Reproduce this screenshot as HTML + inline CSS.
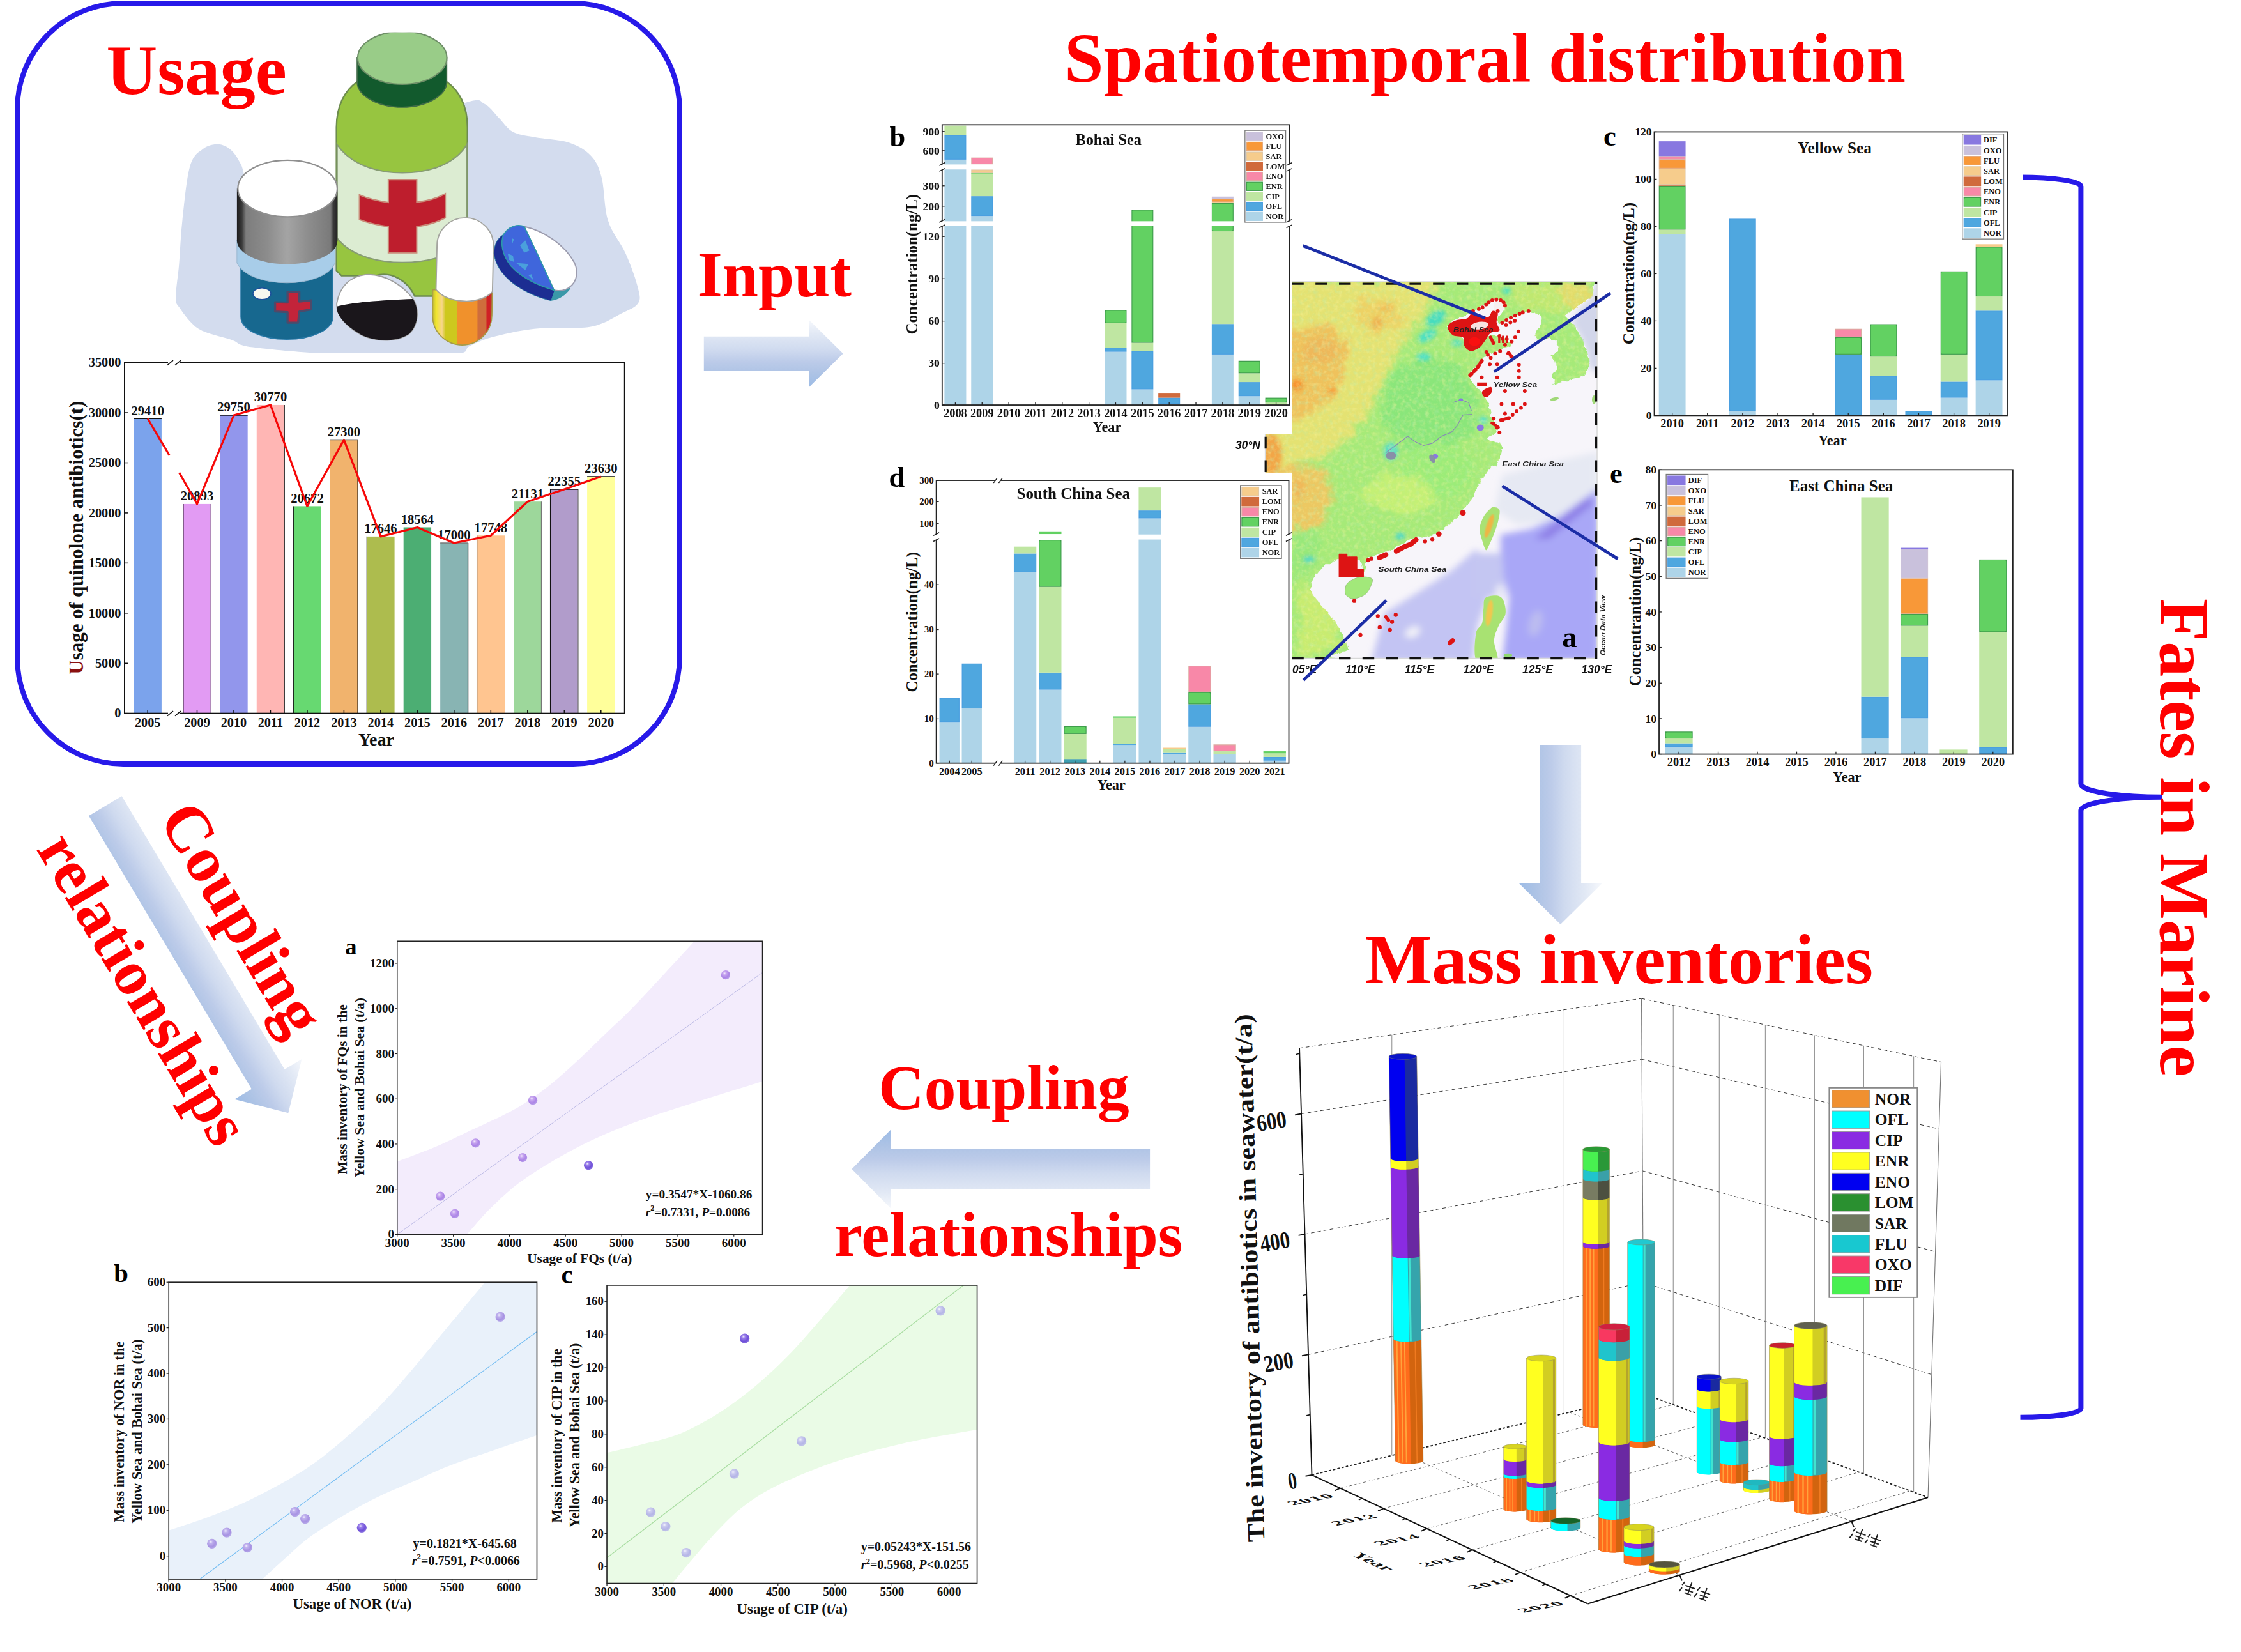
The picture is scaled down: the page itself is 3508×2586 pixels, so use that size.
<!DOCTYPE html>
<html><head><meta charset="utf-8"><title>Graphical abstract</title>
<style>
html,body{margin:0;padding:0;background:#fff;}
body{width:3508px;height:2586px;overflow:hidden;font-family:"Liberation Serif",serif;}
svg{display:block;position:absolute;left:0;top:0;}
text{font-family:"Liberation Serif",serif;font-weight:bold;}
.sans{font-family:"Liberation Sans",sans-serif;}
</style></head><body>
<svg width="3508" height="2586" viewBox="0 0 3508 2586">
<defs>
<linearGradient id="ag" x1="0" y1="0" x2="0" y2="1">
<stop offset="0" stop-color="#f6f8fc"/><stop offset="0.2" stop-color="#e2e9f5"/><stop offset="0.45" stop-color="#cfdaef"/><stop offset="0.62" stop-color="#bccbe9"/><stop offset="0.8" stop-color="#adc3e5"/><stop offset="1" stop-color="#9dbce6"/></linearGradient>
<clipPath id="illclip"><rect x="260" y="50.8" width="760" height="501.5"/></clipPath>
<linearGradient id="lidg" x1="0" y1="0" x2="1" y2="0"><stop offset="0" stop-color="#1c1c1c"/><stop offset="0.05" stop-color="#3a3a3a"/><stop offset="0.09" stop-color="#7d7d7d"/><stop offset="0.3" stop-color="#8c8c8c"/><stop offset="0.5" stop-color="#a4a4a4"/><stop offset="0.7" stop-color="#8e8e8e"/><stop offset="0.93" stop-color="#7a7a7a"/><stop offset="0.96" stop-color="#3a3a3a"/><stop offset="1" stop-color="#222"/></linearGradient>
<linearGradient id="capg" x1="0" y1="0" x2="1" y2="0"><stop offset="0" stop-color="#b8b03a"/><stop offset="0.06" stop-color="#f0e62a"/><stop offset="0.16" stop-color="#f7d68a"/><stop offset="0.22" stop-color="#cdc81e"/><stop offset="0.4" stop-color="#cdc81e"/><stop offset="0.42" stop-color="#f0912c"/><stop offset="0.74" stop-color="#f0912c"/><stop offset="0.76" stop-color="#cf6d3c"/><stop offset="0.89" stop-color="#cf6d3c"/><stop offset="0.91" stop-color="#d02025"/><stop offset="0.96" stop-color="#d02025"/><stop offset="1" stop-color="#a07a40"/></linearGradient>
<clipPath id="mapclip"><rect x="1980.6" y="441" width="519.4" height="589.5"/></clipPath>
<filter id="mb1" x="-20%" y="-20%" width="140%" height="140%"><feGaussianBlur stdDeviation="22" result="b"/><feTurbulence type="fractalNoise" baseFrequency="0.012" numOctaves="3" seed="7" result="t"/><feDisplacementMap in="b" in2="t" scale="110" xChannelSelector="R" yChannelSelector="G"/></filter>
<filter id="mnoise" x="0" y="0" width="100%" height="100%"><feTurbulence type="fractalNoise" baseFrequency="0.035" numOctaves="3" seed="3" result="t"/><feColorMatrix in="t" type="matrix" values="0 0 0 0 1  0 0 0 0 0.93  0 0 0 0 0.35  1.6 0 0 0 -0.72"/></filter>
<filter id="mnoise2" x="0" y="0" width="100%" height="100%"><feTurbulence type="fractalNoise" baseFrequency="0.03" numOctaves="3" seed="11" result="t"/><feColorMatrix in="t" type="matrix" values="0 0 0 0 0.45  0 0 0 0 0.85  0 0 0 0 0.45  0 1.6 0 0 -0.74"/></filter>
<filter id="coast" x="-5%" y="-5%" width="110%" height="110%"><feTurbulence type="fractalNoise" baseFrequency="0.03" numOctaves="3" seed="5" result="t"/><feDisplacementMap in="SourceGraphic" in2="t" scale="26" xChannelSelector="R" yChannelSelector="G" result="d"/><feGaussianBlur in="d" stdDeviation="3"/></filter>
<filter id="mb2" x="-20%" y="-20%" width="140%" height="140%"><feGaussianBlur stdDeviation="14"/></filter>
<filter id="mb4" x="-20%" y="-20%" width="140%" height="140%"><feGaussianBlur stdDeviation="24"/></filter>
<filter id="mb3" x="-20%" y="-20%" width="140%" height="140%"><feGaussianBlur stdDeviation="5"/></filter>
<clipPath id="seaclip"><path d="M1450.0 165.0 C1470.0 166.7 1511.7 184.2 1520.0 200.0 C1528.3 215.8 1508.3 243.3 1500.0 260.0 C1491.7 276.7 1471.7 287.5 1470.0 300.0 C1468.3 312.5 1473.2 337.3 1490.0 335.0 C1506.8 332.7 1546.5 297.8 1571.0 286.0 C1595.5 274.2 1620.5 269.5 1637.0 264.0 C1653.5 258.5 1658.2 253.2 1670.0 253.0 C1681.8 252.8 1691.7 257.7 1708.0 263.0 C1724.3 268.3 1758.8 270.3 1768.0 285.0 C1777.2 299.7 1769.3 331.7 1763.0 351.0 C1756.7 370.3 1733.7 386.3 1730.0 401.0 C1726.3 415.7 1731.0 431.7 1741.0 439.0 C1751.0 446.3 1774.5 445.0 1790.0 445.0 C1805.5 445.0 1820.2 436.3 1834.0 439.0 C1847.8 441.7 1864.7 446.3 1873.0 461.0 C1881.3 475.7 1889.5 512.3 1884.0 527.0 C1878.5 541.7 1843.7 538.0 1840.0 549.0 C1836.3 560.0 1855.7 576.5 1862.0 593.0 C1868.3 609.5 1880.8 631.5 1878.0 648.0 C1875.2 664.5 1847.7 676.5 1845.0 692.0 C1842.3 707.5 1863.8 730.0 1862.0 741.0 C1860.2 752.0 1827.7 758.0 1834.0 758.0 C1840.3 758.0 1875.3 747.5 1900.0 741.0 C1924.7 734.5 1954.5 727.2 1982.0 719.0 C2009.5 710.8 2045.7 708.5 2065.0 692.0 C2084.3 675.5 2094.3 645.7 2098.0 620.0 C2101.7 594.3 2096.2 570.0 2087.0 538.0 C2077.8 506.0 2057.7 459.2 2043.0 428.0 C2028.3 396.8 2013.7 371.2 1999.0 351.0 C1984.3 330.8 1965.2 318.0 1955.0 307.0 C1944.8 296.0 1938.0 292.3 1938.0 285.0 C1938.0 277.7 1938.5 275.8 1955.0 263.0 C1971.5 250.2 2009.5 228.0 2037.0 208.0 C2064.5 188.0 2103.5 167.7 2120.0 143.0 C2136.5 118.3 2122.7 78.8 2136.0 60.0 C2149.3 41.2 2189.3 -403.3 2200.0 30.0 C2210.7 463.3 2490.8 2223.6 2200.0 2660.0 C1909.2 3096.4 748.3 2663.5 455.0 2648.2 C161.7 2632.9 449.2 2598.2 440.0 2568.2 C430.8 2538.2 417.5 2501.5 400.0 2468.2 C382.5 2434.9 360.0 2401.5 335.0 2368.2 C310.0 2334.9 274.2 2299.9 250.0 2268.2 C225.8 2236.5 198.3 2206.5 190.0 2178.2 C181.7 2149.9 186.7 2126.5 200.0 2098.2 C213.3 2069.9 241.7 2031.5 270.0 2008.2 C298.3 1984.9 345.0 1970.7 370.0 1958.2 C395.0 1945.7 395.0 1931.5 420.0 1933.2 C445.0 1934.9 499.2 1946.5 520.0 1968.2 C540.8 1989.9 537.5 2061.5 545.0 2063.2 C552.5 2064.9 555.8 1998.7 565.0 1978.2 C574.2 1957.7 577.5 1951.9 600.0 1940.2 C622.5 1928.5 666.7 1921.9 700.0 1908.2 C733.3 1894.5 766.7 1874.9 800.0 1858.2 C833.3 1841.5 866.7 1817.9 900.0 1808.2 C933.3 1798.5 970.0 1808.5 1000.0 1800.2 C1030.0 1791.9 1050.0 1778.5 1080.0 1758.2 C1110.0 1737.9 1154.7 1701.5 1180.0 1678.2 C1205.3 1654.9 1213.7 1639.9 1232.0 1618.2 C1250.3 1596.5 1274.5 1573.2 1290.0 1548.2 C1305.5 1523.2 1310.0 1496.5 1325.0 1468.2 C1340.0 1439.9 1362.5 1403.2 1380.0 1378.2 C1397.5 1353.2 1415.0 1331.2 1430.0 1318.2 C1445.0 1305.2 1458.3 1319.7 1470.0 1300.0 C1481.7 1280.3 1498.3 1223.3 1500.0 1200.0 C1501.7 1176.7 1496.7 1171.7 1480.0 1160.0 C1463.3 1148.3 1405.0 1141.7 1400.0 1130.0 C1395.0 1118.3 1438.3 1105.0 1450.0 1090.0 C1461.7 1075.0 1473.3 1058.3 1470.0 1040.0 C1466.7 1021.7 1441.7 1008.3 1430.0 980.0 C1418.3 951.7 1415.0 901.7 1400.0 870.0 C1385.0 838.3 1361.7 818.3 1340.0 790.0 C1318.3 761.7 1271.7 728.3 1270.0 700.0 C1268.3 671.7 1310.0 643.3 1330.0 620.0 C1350.0 596.7 1365.0 576.7 1390.0 560.0 C1415.0 543.3 1451.7 533.3 1480.0 520.0 C1508.3 506.7 1553.3 493.3 1560.0 480.0 C1566.7 466.7 1540.0 450.0 1520.0 440.0 C1500.0 430.0 1463.3 420.0 1440.0 420.0 C1416.7 420.0 1400.0 426.7 1380.0 440.0 C1360.0 453.3 1341.7 490.0 1320.0 500.0 C1298.3 510.0 1265.0 510.0 1250.0 500.0 C1235.0 490.0 1245.0 456.7 1230.0 440.0 C1215.0 423.3 1176.7 415.0 1160.0 400.0 C1143.3 385.0 1123.3 366.7 1130.0 350.0 C1136.7 333.3 1173.3 315.0 1200.0 300.0 C1226.7 285.0 1266.7 271.7 1290.0 260.0 C1313.3 248.3 1321.7 241.7 1340.0 230.0 C1358.3 218.3 1381.7 200.8 1400.0 190.0 C1418.3 179.2 1430.0 163.3 1450.0 165.0Z"/></clipPath>
<radialGradient id="sga" cx="0.38" cy="0.32" r="0.7"><stop offset="0" stop-color="#f4eefc"/><stop offset="0.25" stop-color="#c9a8f0"/><stop offset="0.7" stop-color="#ab84e6"/><stop offset="1" stop-color="#b9a0ea"/></radialGradient>
<radialGradient id="sgb" cx="0.38" cy="0.32" r="0.7"><stop offset="0" stop-color="#f2f0fc"/><stop offset="0.25" stop-color="#c0b2ee"/><stop offset="0.7" stop-color="#a792e2"/><stop offset="1" stop-color="#b8acea"/></radialGradient>
<radialGradient id="sgc" cx="0.38" cy="0.32" r="0.7"><stop offset="0" stop-color="#f6f6fe"/><stop offset="0.25" stop-color="#ccccf0"/><stop offset="0.7" stop-color="#b4b4e6"/><stop offset="1" stop-color="#c4c8ea"/></radialGradient>
<radialGradient id="sgd" cx="0.38" cy="0.32" r="0.7"><stop offset="0" stop-color="#f0ecfc"/><stop offset="0.25" stop-color="#9a80ea"/><stop offset="0.7" stop-color="#6f4fd8"/><stop offset="1" stop-color="#8a74e0"/></radialGradient>
<clipPath id="sca"><rect x="418" y="98" width="1686" height="1354"/></clipPath>
<clipPath id="scb"><rect x="287" y="130" width="1587" height="1280"/></clipPath>
<clipPath id="scc"><rect x="303" y="143" width="1596" height="1285"/></clipPath>
</defs>
<rect x="0" y="0" width="3508" height="2586" fill="#fff"/>
<g transform="translate(1101.80,553.40) rotate(0.000)"><polygon points="0.0,-26.6 164.7,-26.6 164.7,-52.5 217.9,0.0 164.7,52.5 164.7,26.6 0.0,26.6" fill="url(#ag)" /></g>
<g transform="translate(2442.80,1166.10) rotate(90.000)"><polygon points="0.0,-32.3 216.8,-32.3 216.8,-64.8 281.0,0.0 216.8,64.8 216.8,32.3 0.0,32.3" fill="url(#ag)" /></g>
<g transform="translate(1800.10,1830.00) rotate(180.000)"><polygon points="0.0,-31.6 405.3,-31.6 405.3,-61.9 466.7,0.0 405.3,61.9 405.3,31.6 0.0,31.6" fill="url(#ag)" /></g>
<g transform="translate(164.80,1261.70) rotate(59.200)"><polygon points="0.0,-30.1 497.8,-30.1 497.8,-61.3 559.5,0.0 497.8,61.3 497.8,30.1 0.0,30.1" fill="url(#ag)" /></g>
<rect x="27" y="5" width="1036.7" height="1191.0" rx="166" ry="166" fill="none" stroke="#2719e9" stroke-width="8"/>
<path d="M3162.5 277.5 A95 14 0 0 1 3257.4 291.5 V1227 A127.6 20.8 0 0 0 3385 1247.8 A127.6 20.8 0 0 0 3257.4 1268.6 V2204.8 A95 14 0 0 1 3162.5 2218.8" fill="none" stroke="#2719e9" stroke-width="8"/>
<text x="166.50" y="147.30" font-size="110.50" fill="#ff0000" text-anchor="start" >Usage</text>
<text x="1666.00" y="128.00" font-size="110.50" fill="#ff0000" text-anchor="start" >Spatiotemporal distribution</text>
<text x="1091.50" y="464.10" font-size="101.00" fill="#ff0000" text-anchor="start" >Input</text>
<text x="2137.00" y="1539.00" font-size="110.50" fill="#ff0000" text-anchor="start" >Mass inventories</text>
<text x="1375.00" y="1735.60" font-size="99.50" fill="#ff0000" text-anchor="start" >Coupling</text>
<text x="1306.00" y="1965.80" font-size="99.50" fill="#ff0000" text-anchor="start" >relationships</text>
<text transform="translate(3382,936.8) rotate(90)" font-size="110.5" fill="#ff0000">Fates in Marine</text>
<text transform="translate(247,1282) rotate(59.2)" font-size="102" fill="#ff0000">Coupling</text>
<text transform="translate(56,1329) rotate(59.2)" font-size="100" fill="#ff0000">relationships</text>
<g clip-path="url(#illclip)"><g transform="translate(260,40) scale(0.339132)" ><path d="M240.0 548.0 C261.7 548.8 282.5 559.7 300.0 575.0 C317.5 590.3 328.3 609.2 345.0 640.0 C361.7 670.8 357.5 730.0 400.0 760.0 C442.5 790.0 533.3 820.0 600.0 820.0 C666.7 820.0 733.3 813.3 800.0 760.0 C866.7 706.7 902.5 567.5 1000.0 500.0 C1097.5 432.5 1306.7 378.0 1385.0 355.0 C1463.3 332.0 1445.0 350.3 1470.0 362.0 C1495.0 373.7 1513.3 403.7 1535.0 425.0 C1556.7 446.3 1572.5 475.0 1600.0 490.0 C1627.5 505.0 1656.7 506.7 1700.0 515.0 C1743.3 523.3 1816.7 525.8 1860.0 540.0 C1903.3 554.2 1935.0 573.3 1960.0 600.0 C1985.0 626.7 1996.7 650.0 2010.0 700.0 C2023.3 750.0 2021.7 841.7 2040.0 900.0 C2058.3 958.3 2097.5 1000.0 2120.0 1050.0 C2142.5 1100.0 2165.0 1161.7 2175.0 1200.0 C2185.0 1238.3 2192.5 1258.3 2180.0 1280.0 C2167.5 1301.7 2136.7 1311.7 2100.0 1330.0 C2063.3 1348.3 2026.7 1378.3 1960.0 1390.0 C1893.3 1401.7 1776.7 1391.7 1700.0 1400.0 C1623.3 1408.3 1550.0 1426.7 1500.0 1440.0 C1450.0 1453.3 1426.7 1467.5 1400.0 1480.0 C1373.3 1492.5 1406.7 1508.3 1340.0 1515.0 C1273.3 1521.7 1090.0 1519.2 1000.0 1520.0 C910.0 1520.8 900.0 1525.8 800.0 1520.0 C700.0 1514.2 483.3 1496.7 400.0 1485.0 C316.7 1473.3 341.7 1464.2 300.0 1450.0 C258.3 1435.8 190.0 1425.0 150.0 1400.0 C110.0 1375.0 77.5 1325.0 60.0 1300.0 C42.5 1275.0 45.0 1283.3 45.0 1250.0 C45.0 1216.7 55.0 1158.3 60.0 1100.0 C65.0 1041.7 66.7 975.0 75.0 900.0 C83.3 825.0 94.2 705.0 110.0 650.0 C125.8 595.0 148.3 587.0 170.0 570.0 C191.7 553.0 218.3 547.2 240.0 548.0Z" fill="#d3dcee" stroke="none" stroke-width="0.00" /></g>
<g transform="translate(500,40) scale(0.266397)" ><path d="M222 330 C150 380 100 470 100 600 L100 1440 L130 1470 L330 1470 C420 1440 520 1500 560 1590 L690 1590 L700 1440 L868 1440 L870 600 C870 470 820 380 748 330 Z" fill="#97c540" stroke="#6d8c4e" stroke-width="9.00" /><path d="M104 700 C200 840 380 865 487 865 C600 865 780 840 866 700 L866 1250 C780 1370 600 1392 487 1392 C380 1392 200 1370 104 1250 Z" fill="#dcecd2" stroke="#879c74" stroke-width="8.00" /><path d="M405 905 L572 905 L572 1038 C640 1030 700 1010 740 988 L740 1130 C700 1152 640 1172 572 1182 L572 1335 L405 1335 L405 1182 C340 1172 280 1158 235 1140 L235 995 C280 1015 340 1030 405 1040 Z" fill="#be1e2d" stroke="#c98a78" stroke-width="8.00" /><path d="M222 190 L222 330 C222 410 340 480 487 480 C630 480 748 410 748 330 L748 190 Z" fill="#125a2d" stroke="#3f6b47" stroke-width="7.00" /><ellipse cx="487.0" cy="190.0" rx="262.0" ry="155.0" fill="#99cc88" stroke="#6f8f68" stroke-width="8.00" /></g>
<g transform="translate(340,220) scale(0.205833)" ><path d="M180 900 L180 1340 C180 1440 340 1512 530 1512 C720 1512 880 1440 880 1340 L880 900 Z" fill="#17688f" stroke="#2a7aa8" stroke-width="8.00" /><path d="M150 760 L150 930 C200 1030 360 1082 530 1082 C700 1082 850 1030 897 930 L897 760 Z" fill="#a8cde9" stroke="#9ab8d0" stroke-width="5.00" /><path d="M150 365 L150 760 C150 860 320 940 535 940 C750 940 915 860 915 760 L915 365 Z" fill="url(#lidg)" stroke="none" stroke-width="0.00" /><ellipse cx="535.0" cy="365.0" rx="378.0" ry="215.0" fill="#ffffff" stroke="#8f8f8f" stroke-width="11.00" /><ellipse cx="340.0" cy="1165.0" rx="68.0" ry="44.0" fill="#f8f8f0" stroke="#1c4f9a" stroke-width="8.00" /><path d="M535 1150 L625 1150 L625 1225 L715 1215 L715 1285 L625 1300 L615 1385 L535 1385 L535 1305 L440 1300 L440 1230 L535 1232 Z" fill="#c3243a" stroke="#4d4a6a" stroke-width="16.00" stroke-linejoin="round"/><path d="M910 1235 C930 1120 1000 1035 1130 1020 C1280 1010 1420 1110 1490 1205 C1540 1290 1530 1400 1460 1470 C1380 1530 1220 1535 1100 1480 C990 1420 900 1330 910 1235 Z" fill="#ffffff" stroke="#a0a0a0" stroke-width="9.00" /><path d="M910 1262 C1000 1235 1250 1212 1490 1205 C1540 1290 1530 1400 1460 1470 C1380 1530 1220 1535 1100 1480 C990 1420 900 1330 910 1262 Z" fill="#1a161b" stroke="none" stroke-width="0.00" /></g>
<g transform="translate(660,320) scale(0.160643)" ><path d="M105 830 L105 1080 A290 290 0 0 0 685 1080 L690 850 Z" fill="url(#capg)" stroke="#a59a48" stroke-width="10.00" /><path d="M150 400 A275 270 0 0 1 700 400 L690 850 C620 930 480 950 400 942 C300 935 200 900 140 830 Z" fill="#ffffff" stroke="#a5a5a0" stroke-width="12.00" /><path d="M795 295 C740 330 705 390 705 480 C720 610 820 730 950 810 C1060 880 1180 920 1262 938 L1295 840 C1150 790 1000 720 880 600 C800 500 770 400 795 295 Z" fill="#1c2d92" stroke="#2a7aa0" stroke-width="6.00" /><path d="M1262 938 C1340 930 1410 880 1450 820 L1420 800 C1380 830 1340 840 1295 840 Z" fill="#3a98a8" stroke="none" stroke-width="0.00" /><path d="M1000 215 C1200 260 1400 400 1490 570 C1540 680 1500 790 1400 830 C1360 842 1320 842 1290 835 Z" fill="#ffffff" stroke="#9c9cae" stroke-width="12.00" /><path d="M1000 215 C940 190 850 210 800 290 C760 380 790 500 870 600 C980 720 1150 795 1290 835 C1230 700 1080 380 1000 215 Z" fill="#3f66dc" stroke="#2a9aa8" stroke-width="10.00" /><path d="M960 400 L1010 350 L1050 450 L1000 470 Z M840 480 L890 500 L900 560 L850 540 Z M920 570 L1040 580 L1010 640 Z M1040 690 L1070 680 L1090 740 Z M880 330 L900 340 L885 380 Z" fill="#4aa0dc" stroke="none" stroke-width="0.00" /></g></g>
<rect x="195.00" y="567.60" width="782.80" height="549.10" fill="#fff" />
<rect x="209.50" y="655.30" width="43.40" height="461.40" fill="#7ba3ec" />
<line x1="209.50" y1="655.30" x2="252.90" y2="655.30" stroke="#111" stroke-width="1.60" />
<rect x="286.80" y="788.92" width="43.40" height="327.78" fill="#e29bf3" />
<line x1="286.80" y1="788.92" x2="286.80" y2="1116.70" stroke="#111" stroke-width="1.30" />
<line x1="330.20" y1="788.92" x2="330.20" y2="1116.70" stroke="#777" stroke-width="1.30" />
<rect x="344.28" y="649.96" width="43.40" height="466.74" fill="#9296ec" />
<line x1="344.28" y1="649.96" x2="387.68" y2="649.96" stroke="#111" stroke-width="1.60" />
<rect x="401.76" y="633.96" width="43.40" height="482.74" fill="#ffb6b4" />
<line x1="445.16" y1="633.96" x2="445.16" y2="1116.70" stroke="#111" stroke-width="1.30" />
<rect x="459.24" y="792.39" width="43.40" height="324.31" fill="#67d971" />
<line x1="459.24" y1="792.39" x2="459.24" y2="1116.70" stroke="#111" stroke-width="1.30" />
<rect x="516.72" y="688.40" width="43.40" height="428.30" fill="#f1b36d" />
<line x1="560.12" y1="688.40" x2="560.12" y2="1116.70" stroke="#111" stroke-width="1.30" />
<line x1="516.72" y1="688.40" x2="560.12" y2="688.40" stroke="#777" stroke-width="1.60" />
<rect x="574.20" y="839.86" width="43.40" height="276.84" fill="#adbc4e" />
<line x1="574.20" y1="839.86" x2="574.20" y2="1116.70" stroke="#777" stroke-width="1.30" />
<rect x="631.68" y="825.46" width="43.40" height="291.24" fill="#4cae73" />
<rect x="689.16" y="849.99" width="43.40" height="266.71" fill="#88b4b3" />
<line x1="732.56" y1="849.99" x2="732.56" y2="1116.70" stroke="#111" stroke-width="1.30" />
<line x1="689.16" y1="849.99" x2="732.56" y2="849.99" stroke="#777" stroke-width="1.60" />
<rect x="746.64" y="838.26" width="43.40" height="278.44" fill="#ffc590" />
<line x1="746.64" y1="838.26" x2="746.64" y2="1116.70" stroke="#777" stroke-width="1.30" />
<rect x="804.12" y="785.18" width="43.40" height="331.52" fill="#9dd79b" />
<line x1="847.52" y1="785.18" x2="847.52" y2="1116.70" stroke="#777" stroke-width="1.30" />
<rect x="861.60" y="765.98" width="43.40" height="350.72" fill="#b19ccb" />
<line x1="861.60" y1="765.98" x2="861.60" y2="1116.70" stroke="#111" stroke-width="1.30" />
<line x1="905.00" y1="765.98" x2="905.00" y2="1116.70" stroke="#777" stroke-width="1.30" />
<line x1="861.60" y1="765.98" x2="905.00" y2="765.98" stroke="#111" stroke-width="1.60" />
<rect x="919.08" y="745.98" width="43.40" height="370.72" fill="#ffff9b" />
<line x1="919.08" y1="745.98" x2="962.48" y2="745.98" stroke="#111" stroke-width="1.60" />
<rect x="195.0" y="567.6" width="782.8" height="549.1" fill="none" stroke="#111" stroke-width="2"/>
<rect x="263.00" y="564.60" width="18.00" height="6.00" fill="#fff" />
<line x1="262.00" y1="571.60" x2="271.00" y2="564.10" stroke="#111" stroke-width="1.60" />
<line x1="274.00" y1="571.60" x2="283.00" y2="564.10" stroke="#111" stroke-width="1.60" />
<rect x="263.00" y="1113.70" width="18.00" height="6.00" fill="#fff" />
<line x1="262.00" y1="1120.70" x2="271.00" y2="1113.20" stroke="#111" stroke-width="1.60" />
<line x1="274.00" y1="1120.70" x2="283.00" y2="1113.20" stroke="#111" stroke-width="1.60" />
<line x1="231.20" y1="1116.70" x2="231.20" y2="1111.70" stroke="#111" stroke-width="1.50" />
<line x1="308.50" y1="1116.70" x2="308.50" y2="1111.70" stroke="#111" stroke-width="1.50" />
<line x1="365.98" y1="1116.70" x2="365.98" y2="1111.70" stroke="#111" stroke-width="1.50" />
<line x1="423.46" y1="1116.70" x2="423.46" y2="1111.70" stroke="#111" stroke-width="1.50" />
<line x1="480.94" y1="1116.70" x2="480.94" y2="1111.70" stroke="#111" stroke-width="1.50" />
<line x1="538.42" y1="1116.70" x2="538.42" y2="1111.70" stroke="#111" stroke-width="1.50" />
<line x1="595.90" y1="1116.70" x2="595.90" y2="1111.70" stroke="#111" stroke-width="1.50" />
<line x1="653.38" y1="1116.70" x2="653.38" y2="1111.70" stroke="#111" stroke-width="1.50" />
<line x1="710.86" y1="1116.70" x2="710.86" y2="1111.70" stroke="#111" stroke-width="1.50" />
<line x1="768.34" y1="1116.70" x2="768.34" y2="1111.70" stroke="#111" stroke-width="1.50" />
<line x1="825.82" y1="1116.70" x2="825.82" y2="1111.70" stroke="#111" stroke-width="1.50" />
<line x1="883.30" y1="1116.70" x2="883.30" y2="1111.70" stroke="#111" stroke-width="1.50" />
<line x1="940.78" y1="1116.70" x2="940.78" y2="1111.70" stroke="#111" stroke-width="1.50" />
<line x1="195.00" y1="1116.70" x2="200.00" y2="1116.70" stroke="#111" stroke-width="1.50" />
<text x="189.50" y="1123.40" font-size="20.30" fill="#111" text-anchor="end" >0</text>
<line x1="195.00" y1="1038.26" x2="200.00" y2="1038.26" stroke="#111" stroke-width="1.50" />
<text x="189.50" y="1044.96" font-size="20.30" fill="#111" text-anchor="end" >5000</text>
<line x1="195.00" y1="959.81" x2="200.00" y2="959.81" stroke="#111" stroke-width="1.50" />
<text x="189.50" y="966.51" font-size="20.30" fill="#111" text-anchor="end" >10000</text>
<line x1="195.00" y1="881.37" x2="200.00" y2="881.37" stroke="#111" stroke-width="1.50" />
<text x="189.50" y="888.07" font-size="20.30" fill="#111" text-anchor="end" >15000</text>
<line x1="195.00" y1="802.93" x2="200.00" y2="802.93" stroke="#111" stroke-width="1.50" />
<text x="189.50" y="809.63" font-size="20.30" fill="#111" text-anchor="end" >20000</text>
<line x1="195.00" y1="724.49" x2="200.00" y2="724.49" stroke="#111" stroke-width="1.50" />
<text x="189.50" y="731.19" font-size="20.30" fill="#111" text-anchor="end" >25000</text>
<line x1="195.00" y1="646.04" x2="200.00" y2="646.04" stroke="#111" stroke-width="1.50" />
<text x="189.50" y="652.74" font-size="20.30" fill="#111" text-anchor="end" >30000</text>
<line x1="195.00" y1="567.60" x2="200.00" y2="567.60" stroke="#111" stroke-width="1.50" />
<text x="189.50" y="574.30" font-size="20.30" fill="#111" text-anchor="end" >35000</text>
<text x="231.20" y="1138.40" font-size="20.30" fill="#111" text-anchor="middle" >2005</text>
<text x="308.50" y="1138.40" font-size="20.30" fill="#111" text-anchor="middle" >2009</text>
<text x="365.98" y="1138.40" font-size="20.30" fill="#111" text-anchor="middle" >2010</text>
<text x="423.46" y="1138.40" font-size="20.30" fill="#111" text-anchor="middle" >2011</text>
<text x="480.94" y="1138.40" font-size="20.30" fill="#111" text-anchor="middle" >2012</text>
<text x="538.42" y="1138.40" font-size="20.30" fill="#111" text-anchor="middle" >2013</text>
<text x="595.90" y="1138.40" font-size="20.30" fill="#111" text-anchor="middle" >2014</text>
<text x="653.38" y="1138.40" font-size="20.30" fill="#111" text-anchor="middle" >2015</text>
<text x="710.86" y="1138.40" font-size="20.30" fill="#111" text-anchor="middle" >2016</text>
<text x="768.34" y="1138.40" font-size="20.30" fill="#111" text-anchor="middle" >2017</text>
<text x="825.82" y="1138.40" font-size="20.30" fill="#111" text-anchor="middle" >2018</text>
<text x="883.30" y="1138.40" font-size="20.30" fill="#111" text-anchor="middle" >2019</text>
<text x="940.78" y="1138.40" font-size="20.30" fill="#111" text-anchor="middle" >2020</text>
<text x="231.20" y="649.80" font-size="20.60" fill="#111" text-anchor="middle" >29410</text>
<text x="308.50" y="783.42" font-size="20.60" fill="#111" text-anchor="middle" >20893</text>
<text x="365.98" y="644.46" font-size="20.60" fill="#111" text-anchor="middle" >29750</text>
<text x="423.46" y="628.46" font-size="20.60" fill="#111" text-anchor="middle" >30770</text>
<text x="480.94" y="786.89" font-size="20.60" fill="#111" text-anchor="middle" >20672</text>
<text x="538.42" y="682.90" font-size="20.60" fill="#111" text-anchor="middle" >27300</text>
<text x="595.90" y="834.36" font-size="20.60" fill="#111" text-anchor="middle" >17646</text>
<text x="653.38" y="819.96" font-size="20.60" fill="#111" text-anchor="middle" >18564</text>
<text x="710.86" y="844.49" font-size="20.60" fill="#111" text-anchor="middle" >17000</text>
<text x="768.34" y="832.76" font-size="20.60" fill="#111" text-anchor="middle" >17748</text>
<text x="825.82" y="779.68" font-size="20.60" fill="#111" text-anchor="middle" >21131</text>
<text x="883.30" y="760.48" font-size="20.60" fill="#111" text-anchor="middle" >22355</text>
<text x="940.78" y="740.48" font-size="20.60" fill="#111" text-anchor="middle" >23630</text>
<polyline points="231.2,655.3 265.1,712.7" fill="none" stroke="#f60808" stroke-width="3.20" />
<polyline points="280.6,739.9 308.5,788.9 366.0,650.0 423.5,634.0 480.9,792.4 538.4,688.4 595.9,839.9 653.4,825.5 710.9,850.0 768.3,838.3 825.8,785.2 883.3,766.0 940.8,746.0" fill="none" stroke="#f60808" stroke-width="3.20" stroke-linejoin="round"/>
<text x="589.00" y="1166.80" font-size="28.00" fill="#111" text-anchor="middle" >Year</text>
<text transform="translate(130,1055.6) rotate(-90)" font-size="31" fill="#111" textLength="428" lengthAdjust="spacingAndGlyphs"><tspan fill="#8b1010">U</tspan>sage of quinolone antibiotics(t)</text>
<g transform="translate(2480,160) scale(0.326926)" ><rect x="115.00" y="60.00" width="1985.00" height="1620.00" fill="#fff" />
<rect x="357.00" y="632.00" width="128.00" height="868.00" fill="#aed4e8" />
<rect x="357.00" y="610.00" width="128.00" height="22.00" fill="#bfe6a2" />
<rect x="357.00" y="400.00" width="128.00" height="210.00" fill="#3f9d4c" /><rect x="360.5" y="403.5" width="121.0" height="203.0" rx="5" fill="#62d162"/>
<rect x="357.00" y="395.00" width="128.00" height="5.00" fill="#d06a3c" />
<rect x="357.00" y="318.00" width="128.00" height="77.00" fill="#e2c8a4" /><rect x="360.5" y="321.5" width="121.0" height="70.0" rx="5" fill="#f6cc8c"/>
<rect x="357.00" y="275.00" width="128.00" height="43.00" fill="#e6a878" /><rect x="360.5" y="278.5" width="121.0" height="36.0" rx="5" fill="#f89838"/>
<rect x="357.00" y="258.00" width="128.00" height="17.00" fill="#dcaaa0" /><rect x="360.5" y="261.5" width="121.0" height="10.0" rx="5" fill="#f888a8"/>
<rect x="357.00" y="187.00" width="128.00" height="71.00" fill="#8878e0" />
<rect x="694.00" y="1480.00" width="128.00" height="20.00" fill="#aed4e8" />
<rect x="694.00" y="558.00" width="128.00" height="922.00" fill="#4a9fe0" /><rect x="697.5" y="561.5" width="121.0" height="915.0" rx="5" fill="#4fa7df"/>
<rect x="1200.00" y="1208.00" width="128.00" height="292.00" fill="#4a9fe0" /><rect x="1203.5" y="1211.5" width="121.0" height="285.0" rx="5" fill="#4fa7df"/>
<rect x="1200.00" y="1125.00" width="128.00" height="83.00" fill="#3f9d4c" /><rect x="1203.5" y="1128.5" width="121.0" height="76.0" rx="5" fill="#62d162"/>
<rect x="1200.00" y="1085.00" width="128.00" height="40.00" fill="#dcaaa0" /><rect x="1203.5" y="1088.5" width="121.0" height="33.0" rx="5" fill="#f888a8"/>
<rect x="1369.00" y="1425.00" width="128.00" height="75.00" fill="#aed4e8" />
<rect x="1369.00" y="1310.00" width="128.00" height="115.00" fill="#4a9fe0" /><rect x="1372.5" y="1313.5" width="121.0" height="108.0" rx="5" fill="#4fa7df"/>
<rect x="1369.00" y="1218.00" width="128.00" height="92.00" fill="#bfe6a2" />
<rect x="1369.00" y="1063.00" width="128.00" height="155.00" fill="#3f9d4c" /><rect x="1372.5" y="1066.5" width="121.0" height="148.0" rx="5" fill="#62d162"/>
<rect x="1537.00" y="1478.00" width="128.00" height="22.00" fill="#4a9fe0" /><rect x="1540.5" y="1481.5" width="121.0" height="15.0" rx="5" fill="#4fa7df"/>
<rect x="1706.00" y="1415.00" width="128.00" height="85.00" fill="#aed4e8" />
<rect x="1706.00" y="1338.00" width="128.00" height="77.00" fill="#4a9fe0" /><rect x="1709.5" y="1341.5" width="121.0" height="70.0" rx="5" fill="#4fa7df"/>
<rect x="1706.00" y="1208.00" width="128.00" height="130.00" fill="#bfe6a2" />
<rect x="1706.00" y="810.00" width="128.00" height="398.00" fill="#3f9d4c" /><rect x="1709.5" y="813.5" width="121.0" height="391.0" rx="5" fill="#62d162"/>
<rect x="1874.00" y="1332.00" width="128.00" height="168.00" fill="#aed4e8" />
<rect x="1874.00" y="998.00" width="128.00" height="334.00" fill="#4a9fe0" /><rect x="1877.5" y="1001.5" width="121.0" height="327.0" rx="5" fill="#4fa7df"/>
<rect x="1874.00" y="930.00" width="128.00" height="68.00" fill="#bfe6a2" />
<rect x="1874.00" y="692.00" width="128.00" height="238.00" fill="#3f9d4c" /><rect x="1877.5" y="695.5" width="121.0" height="231.0" rx="5" fill="#62d162"/>
<rect x="1874.00" y="680.00" width="128.00" height="12.00" fill="#f6cc8c" />
<rect x="335.0" y="142.0" width="1690.0" height="1358.0" fill="none" stroke="#222" stroke-width="5.5"/>
<line x1="335.00" y1="1500.00" x2="347.00" y2="1500.00" stroke="#222" stroke-width="4.00" />
<text x="323.00" y="1517.82" font-size="54.00" fill="#111" text-anchor="end" >0</text>
<line x1="335.00" y1="1273.67" x2="347.00" y2="1273.67" stroke="#222" stroke-width="4.00" />
<text x="323.00" y="1291.49" font-size="54.00" fill="#111" text-anchor="end" >20</text>
<line x1="335.00" y1="1047.34" x2="347.00" y2="1047.34" stroke="#222" stroke-width="4.00" />
<text x="323.00" y="1065.16" font-size="54.00" fill="#111" text-anchor="end" >40</text>
<line x1="335.00" y1="821.01" x2="347.00" y2="821.01" stroke="#222" stroke-width="4.00" />
<text x="323.00" y="838.83" font-size="54.00" fill="#111" text-anchor="end" >60</text>
<line x1="335.00" y1="594.68" x2="347.00" y2="594.68" stroke="#222" stroke-width="4.00" />
<text x="323.00" y="612.50" font-size="54.00" fill="#111" text-anchor="end" >80</text>
<line x1="335.00" y1="368.35" x2="347.00" y2="368.35" stroke="#222" stroke-width="4.00" />
<text x="323.00" y="386.17" font-size="54.00" fill="#111" text-anchor="end" >100</text>
<line x1="335.00" y1="142.02" x2="347.00" y2="142.02" stroke="#222" stroke-width="4.00" />
<text x="323.00" y="159.84" font-size="54.00" fill="#111" text-anchor="end" >120</text>
<line x1="421.00" y1="1500.00" x2="421.00" y2="1488.00" stroke="#222" stroke-width="4.00" />
<text x="421.00" y="1557.00" font-size="56.00" fill="#111" text-anchor="middle" >2010</text>
<line x1="589.60" y1="1500.00" x2="589.60" y2="1488.00" stroke="#222" stroke-width="4.00" />
<text x="589.60" y="1557.00" font-size="56.00" fill="#111" text-anchor="middle" >2011</text>
<line x1="758.20" y1="1500.00" x2="758.20" y2="1488.00" stroke="#222" stroke-width="4.00" />
<text x="758.20" y="1557.00" font-size="56.00" fill="#111" text-anchor="middle" >2012</text>
<line x1="926.80" y1="1500.00" x2="926.80" y2="1488.00" stroke="#222" stroke-width="4.00" />
<text x="926.80" y="1557.00" font-size="56.00" fill="#111" text-anchor="middle" >2013</text>
<line x1="1095.40" y1="1500.00" x2="1095.40" y2="1488.00" stroke="#222" stroke-width="4.00" />
<text x="1095.40" y="1557.00" font-size="56.00" fill="#111" text-anchor="middle" >2014</text>
<line x1="1264.00" y1="1500.00" x2="1264.00" y2="1488.00" stroke="#222" stroke-width="4.00" />
<text x="1264.00" y="1557.00" font-size="56.00" fill="#111" text-anchor="middle" >2015</text>
<line x1="1432.60" y1="1500.00" x2="1432.60" y2="1488.00" stroke="#222" stroke-width="4.00" />
<text x="1432.60" y="1557.00" font-size="56.00" fill="#111" text-anchor="middle" >2016</text>
<line x1="1601.20" y1="1500.00" x2="1601.20" y2="1488.00" stroke="#222" stroke-width="4.00" />
<text x="1601.20" y="1557.00" font-size="56.00" fill="#111" text-anchor="middle" >2017</text>
<line x1="1769.80" y1="1500.00" x2="1769.80" y2="1488.00" stroke="#222" stroke-width="4.00" />
<text x="1769.80" y="1557.00" font-size="56.00" fill="#111" text-anchor="middle" >2018</text>
<line x1="1938.40" y1="1500.00" x2="1938.40" y2="1488.00" stroke="#222" stroke-width="4.00" />
<text x="1938.40" y="1557.00" font-size="56.00" fill="#111" text-anchor="middle" >2019</text>
<text x="1188.00" y="1642.00" font-size="68.00" fill="#111" text-anchor="middle" >Year</text>
<text transform="translate(238.0,1160.0) rotate(-90)" font-size="76.0" fill="#111" textLength="680.0" lengthAdjust="spacingAndGlyphs">Concentration(ng/L)</text>
<text x="1022.0" y="245.0" font-size="76.0" fill="#111" textLength="354.0" lengthAdjust="spacingAndGlyphs">Yellow Sea</text>
<text x="92.00" y="208.00" font-size="136.00" fill="#000" text-anchor="start" >c</text>
<rect x="1810.0" y="152.0" width="198.0" height="503.0" fill="#fff" stroke="#777" stroke-width="4"/>
<rect x="1816.00" y="158.00" width="84.00" height="45.50" fill="#8878e0" />
<text x="1912.00" y="193.75" font-size="38.00" fill="#111" text-anchor="start" >DIF</text>
<rect x="1816.00" y="207.50" width="84.00" height="45.50" fill="#cfc4d8" /><rect x="1819.5" y="211.0" width="77.0" height="38.5" rx="5" fill="#c9c1dc"/>
<text x="1912.00" y="243.25" font-size="38.00" fill="#111" text-anchor="start" >OXO</text>
<rect x="1816.00" y="257.00" width="84.00" height="45.50" fill="#e6a878" /><rect x="1819.5" y="260.5" width="77.0" height="38.5" rx="5" fill="#f89838"/>
<text x="1912.00" y="292.75" font-size="38.00" fill="#111" text-anchor="start" >FLU</text>
<rect x="1816.00" y="306.50" width="84.00" height="45.50" fill="#e2c8a4" /><rect x="1819.5" y="310.0" width="77.0" height="38.5" rx="5" fill="#f6cc8c"/>
<text x="1912.00" y="342.25" font-size="38.00" fill="#111" text-anchor="start" >SAR</text>
<rect x="1816.00" y="356.00" width="84.00" height="45.50" fill="#d06a3c" />
<text x="1912.00" y="391.75" font-size="38.00" fill="#111" text-anchor="start" >LOM</text>
<rect x="1816.00" y="405.50" width="84.00" height="45.50" fill="#dcaaa0" /><rect x="1819.5" y="409.0" width="77.0" height="38.5" rx="5" fill="#f888a8"/>
<text x="1912.00" y="441.25" font-size="38.00" fill="#111" text-anchor="start" >ENO</text>
<rect x="1816.00" y="455.00" width="84.00" height="45.50" fill="#3f9d4c" /><rect x="1819.5" y="458.5" width="77.0" height="38.5" rx="5" fill="#62d162"/>
<text x="1912.00" y="490.75" font-size="38.00" fill="#111" text-anchor="start" >ENR</text>
<rect x="1816.00" y="504.50" width="84.00" height="45.50" fill="#bfe6a2" />
<text x="1912.00" y="540.25" font-size="38.00" fill="#111" text-anchor="start" >CIP</text>
<rect x="1816.00" y="554.00" width="84.00" height="45.50" fill="#4a9fe0" /><rect x="1819.5" y="557.5" width="77.0" height="38.5" rx="5" fill="#4fa7df"/>
<text x="1912.00" y="589.75" font-size="38.00" fill="#111" text-anchor="start" >OFL</text>
<rect x="1816.00" y="603.50" width="84.00" height="45.50" fill="#aed4e8" />
<text x="1912.00" y="639.25" font-size="38.00" fill="#111" text-anchor="start" >NOR</text></g>
<g transform="translate(2480,700) scale(0.326926)" ><rect x="115.00" y="20.00" width="2005.00" height="1630.00" fill="#fff" />
<rect x="387.00" y="1435.00" width="132.00" height="35.00" fill="#aed4e8" />
<rect x="387.00" y="1418.00" width="132.00" height="17.00" fill="#4a9fe0" /><rect x="390.5" y="1421.5" width="125.0" height="10.0" rx="5" fill="#4fa7df"/>
<rect x="387.00" y="1395.00" width="132.00" height="23.00" fill="#bfe6a2" />
<rect x="387.00" y="1362.00" width="132.00" height="33.00" fill="#3f9d4c" /><rect x="390.5" y="1365.5" width="125.0" height="26.0" rx="5" fill="#62d162"/>
<rect x="1326.00" y="1395.00" width="132.00" height="75.00" fill="#aed4e8" />
<rect x="1326.00" y="1195.00" width="132.00" height="200.00" fill="#4a9fe0" /><rect x="1329.5" y="1198.5" width="125.0" height="193.0" rx="5" fill="#4fa7df"/>
<rect x="1326.00" y="240.00" width="132.00" height="955.00" fill="#bfe6a2" />
<rect x="1514.00" y="1298.00" width="132.00" height="172.00" fill="#aed4e8" />
<rect x="1514.00" y="1005.00" width="132.00" height="293.00" fill="#4a9fe0" /><rect x="1517.5" y="1008.5" width="125.0" height="286.0" rx="5" fill="#4fa7df"/>
<rect x="1514.00" y="855.00" width="132.00" height="150.00" fill="#bfe6a2" />
<rect x="1514.00" y="798.00" width="132.00" height="57.00" fill="#3f9d4c" /><rect x="1517.5" y="801.5" width="125.0" height="50.0" rx="5" fill="#62d162"/>
<rect x="1514.00" y="628.00" width="132.00" height="170.00" fill="#e6a878" /><rect x="1517.5" y="631.5" width="125.0" height="163.0" rx="5" fill="#f89838"/>
<rect x="1514.00" y="490.00" width="132.00" height="138.00" fill="#cfc4d8" /><rect x="1517.5" y="493.5" width="125.0" height="131.0" rx="5" fill="#c9c1dc"/>
<rect x="1514.00" y="482.00" width="132.00" height="8.00" fill="#8878e0" />
<rect x="1702.00" y="1448.00" width="132.00" height="22.00" fill="#bfe6a2" />
<rect x="1891.00" y="1437.00" width="132.00" height="33.00" fill="#4a9fe0" /><rect x="1894.5" y="1440.5" width="125.0" height="26.0" rx="5" fill="#4fa7df"/>
<rect x="1891.00" y="885.00" width="132.00" height="552.00" fill="#bfe6a2" />
<rect x="1891.00" y="538.00" width="132.00" height="347.00" fill="#3f9d4c" /><rect x="1894.5" y="541.5" width="125.0" height="340.0" rx="5" fill="#62d162"/>
<rect x="358.0" y="108.0" width="1694.0" height="1362.0" fill="none" stroke="#222" stroke-width="5.5"/>
<line x1="358.00" y1="1470.00" x2="370.00" y2="1470.00" stroke="#222" stroke-width="4.00" />
<text x="346.00" y="1487.82" font-size="54.00" fill="#111" text-anchor="end" >0</text>
<line x1="358.00" y1="1299.75" x2="370.00" y2="1299.75" stroke="#222" stroke-width="4.00" />
<text x="346.00" y="1317.57" font-size="54.00" fill="#111" text-anchor="end" >10</text>
<line x1="358.00" y1="1129.50" x2="370.00" y2="1129.50" stroke="#222" stroke-width="4.00" />
<text x="346.00" y="1147.32" font-size="54.00" fill="#111" text-anchor="end" >20</text>
<line x1="358.00" y1="959.25" x2="370.00" y2="959.25" stroke="#222" stroke-width="4.00" />
<text x="346.00" y="977.07" font-size="54.00" fill="#111" text-anchor="end" >30</text>
<line x1="358.00" y1="789.00" x2="370.00" y2="789.00" stroke="#222" stroke-width="4.00" />
<text x="346.00" y="806.82" font-size="54.00" fill="#111" text-anchor="end" >40</text>
<line x1="358.00" y1="618.75" x2="370.00" y2="618.75" stroke="#222" stroke-width="4.00" />
<text x="346.00" y="636.57" font-size="54.00" fill="#111" text-anchor="end" >50</text>
<line x1="358.00" y1="448.50" x2="370.00" y2="448.50" stroke="#222" stroke-width="4.00" />
<text x="346.00" y="466.32" font-size="54.00" fill="#111" text-anchor="end" >60</text>
<line x1="358.00" y1="278.25" x2="370.00" y2="278.25" stroke="#222" stroke-width="4.00" />
<text x="346.00" y="296.07" font-size="54.00" fill="#111" text-anchor="end" >70</text>
<line x1="358.00" y1="108.00" x2="370.00" y2="108.00" stroke="#222" stroke-width="4.00" />
<text x="346.00" y="125.82" font-size="54.00" fill="#111" text-anchor="end" >80</text>
<line x1="453.00" y1="1470.00" x2="453.00" y2="1458.00" stroke="#222" stroke-width="4.00" />
<text x="453.00" y="1527.00" font-size="56.00" fill="#111" text-anchor="middle" >2012</text>
<line x1="641.00" y1="1470.00" x2="641.00" y2="1458.00" stroke="#222" stroke-width="4.00" />
<text x="641.00" y="1527.00" font-size="56.00" fill="#111" text-anchor="middle" >2013</text>
<line x1="829.00" y1="1470.00" x2="829.00" y2="1458.00" stroke="#222" stroke-width="4.00" />
<text x="829.00" y="1527.00" font-size="56.00" fill="#111" text-anchor="middle" >2014</text>
<line x1="1017.00" y1="1470.00" x2="1017.00" y2="1458.00" stroke="#222" stroke-width="4.00" />
<text x="1017.00" y="1527.00" font-size="56.00" fill="#111" text-anchor="middle" >2015</text>
<line x1="1205.00" y1="1470.00" x2="1205.00" y2="1458.00" stroke="#222" stroke-width="4.00" />
<text x="1205.00" y="1527.00" font-size="56.00" fill="#111" text-anchor="middle" >2016</text>
<line x1="1393.00" y1="1470.00" x2="1393.00" y2="1458.00" stroke="#222" stroke-width="4.00" />
<text x="1393.00" y="1527.00" font-size="56.00" fill="#111" text-anchor="middle" >2017</text>
<line x1="1581.00" y1="1470.00" x2="1581.00" y2="1458.00" stroke="#222" stroke-width="4.00" />
<text x="1581.00" y="1527.00" font-size="56.00" fill="#111" text-anchor="middle" >2018</text>
<line x1="1769.00" y1="1470.00" x2="1769.00" y2="1458.00" stroke="#222" stroke-width="4.00" />
<text x="1769.00" y="1527.00" font-size="56.00" fill="#111" text-anchor="middle" >2019</text>
<line x1="1957.00" y1="1470.00" x2="1957.00" y2="1458.00" stroke="#222" stroke-width="4.00" />
<text x="1957.00" y="1527.00" font-size="56.00" fill="#111" text-anchor="middle" >2020</text>
<text x="1258.00" y="1602.00" font-size="68.00" fill="#111" text-anchor="middle" >Year</text>
<text transform="translate(268.0,1145.0) rotate(-90)" font-size="76.0" fill="#111" textLength="715.0" lengthAdjust="spacingAndGlyphs">Concentrantion(ng/L)</text>
<text x="982.0" y="210.0" font-size="76.0" fill="#111" textLength="496.0" lengthAdjust="spacingAndGlyphs">East China Sea</text>
<text x="122.00" y="170.00" font-size="136.00" fill="#000" text-anchor="start" >e</text>
<rect x="392.0" y="130.0" width="200.0" height="498.0" fill="#fff" stroke="#777" stroke-width="4"/>
<rect x="398.00" y="136.00" width="87.00" height="45.00" fill="#8878e0" />
<text x="498.00" y="171.50" font-size="38.00" fill="#111" text-anchor="start" >DIF</text>
<rect x="398.00" y="185.00" width="87.00" height="45.00" fill="#cfc4d8" /><rect x="401.5" y="188.5" width="80.0" height="38.0" rx="5" fill="#c9c1dc"/>
<text x="498.00" y="220.50" font-size="38.00" fill="#111" text-anchor="start" >OXO</text>
<rect x="398.00" y="234.00" width="87.00" height="45.00" fill="#e6a878" /><rect x="401.5" y="237.5" width="80.0" height="38.0" rx="5" fill="#f89838"/>
<text x="498.00" y="269.50" font-size="38.00" fill="#111" text-anchor="start" >FLU</text>
<rect x="398.00" y="283.00" width="87.00" height="45.00" fill="#e2c8a4" /><rect x="401.5" y="286.5" width="80.0" height="38.0" rx="5" fill="#f6cc8c"/>
<text x="498.00" y="318.50" font-size="38.00" fill="#111" text-anchor="start" >SAR</text>
<rect x="398.00" y="332.00" width="87.00" height="45.00" fill="#d06a3c" />
<text x="498.00" y="367.50" font-size="38.00" fill="#111" text-anchor="start" >LOM</text>
<rect x="398.00" y="381.00" width="87.00" height="45.00" fill="#dcaaa0" /><rect x="401.5" y="384.5" width="80.0" height="38.0" rx="5" fill="#f888a8"/>
<text x="498.00" y="416.50" font-size="38.00" fill="#111" text-anchor="start" >ENO</text>
<rect x="398.00" y="430.00" width="87.00" height="45.00" fill="#3f9d4c" /><rect x="401.5" y="433.5" width="80.0" height="38.0" rx="5" fill="#62d162"/>
<text x="498.00" y="465.50" font-size="38.00" fill="#111" text-anchor="start" >ENR</text>
<rect x="398.00" y="479.00" width="87.00" height="45.00" fill="#bfe6a2" />
<text x="498.00" y="514.50" font-size="38.00" fill="#111" text-anchor="start" >CIP</text>
<rect x="398.00" y="528.00" width="87.00" height="45.00" fill="#4a9fe0" /><rect x="401.5" y="531.5" width="80.0" height="38.0" rx="5" fill="#4fa7df"/>
<text x="498.00" y="563.50" font-size="38.00" fill="#111" text-anchor="start" >OFL</text>
<rect x="398.00" y="577.00" width="87.00" height="45.00" fill="#aed4e8" />
<text x="498.00" y="612.50" font-size="38.00" fill="#111" text-anchor="start" >NOR</text></g>
<g clip-path="url(#mapclip)"><g transform="translate(2010,430) scale(0.227578)" ><rect x="-140.00" y="40.00" width="2310.00" height="2620.00" fill="#a6ea78" />
<g filter="url(#mb1)"><polygon points="-140.0,40.0 1050.0,40.0 980.0,250.0 820.0,450.0 700.0,700.0 560.0,1000.0 300.0,1250.0 -140.0,1350.0" fill="#e4e272" /><polygon points="-140.0,380.0 320.0,340.0 460.0,500.0 360.0,850.0 100.0,1000.0 -140.0,1000.0" fill="#efc25c" /><polygon points="500.0,150.0 750.0,180.0 820.0,330.0 600.0,420.0 480.0,300.0" fill="#edd265" /><polygon points="-140.0,1300.0 260.0,1330.0 340.0,1500.0 260.0,1720.0 60.0,1780.0 -140.0,1720.0" fill="#ecc862" /><ellipse cx="1000.0" cy="900.0" rx="330.0" ry="330.0" fill="#8ae67a" stroke="none" stroke-width="0.00" /><ellipse cx="1050.0" cy="1350.0" rx="250.0" ry="200.0" fill="#9cec78" stroke="none" stroke-width="0.00" /><polygon points="1500.0,60.0 2130.0,60.0 2130.0,260.0 1750.0,260.0 1600.0,200.0" fill="#bfe870" /><polygon points="1880.0,60.0 2130.0,60.0 2130.0,280.0 1950.0,250.0" fill="#e2dc6a" /><polygon points="700.0,1368.2 950.0,1398.2 1050.0,1568.2 900.0,1648.2 650.0,1618.2 500.0,1518.2" fill="#c4f074" /><polygon points="100.0,2118.2 330.0,2218.2 400.0,2568.2 100.0,2636.2" fill="#c8ec70" /><polygon points="60.0,1738.2 260.0,1798.2 200.0,2018.2 60.0,2118.2" fill="#98e87a" /></g>
<g filter="url(#mb2)"><ellipse cx="90.0" cy="760.0" rx="42.0" ry="38.0" fill="#f8902c" stroke="none" stroke-width="0.00" /><ellipse cx="330.0" cy="800.0" rx="30.0" ry="18.0" fill="#f89a38" stroke="none" stroke-width="0.00" /><ellipse cx="150.0" cy="570.0" rx="20.0" ry="14.0" fill="#f8a040" stroke="none" stroke-width="0.00" /><ellipse cx="250.0" cy="520.0" rx="120.0" ry="90.0" fill="#eeb85a" stroke="none" stroke-width="0.00" /><ellipse cx="1045.0" cy="300.0" rx="75.0" ry="45.0" fill="#44dcc0" stroke="none" stroke-width="0.00" transform="rotate(-35 1045 300)"/><ellipse cx="985.0" cy="420.0" rx="70.0" ry="35.0" fill="#4ce0c4" stroke="none" stroke-width="0.00" transform="rotate(-30 985 420)"/><ellipse cx="960.0" cy="565.0" rx="50.0" ry="28.0" fill="#50e0c8" stroke="none" stroke-width="0.00" /><ellipse cx="1190.0" cy="470.0" rx="40.0" ry="22.0" fill="#58e0c0" stroke="none" stroke-width="0.00" /><ellipse cx="735.0" cy="1215.0" rx="50.0" ry="60.0" fill="#58dcc8" stroke="none" stroke-width="0.00" /><ellipse cx="1530.0" cy="110.0" rx="30.0" ry="25.0" fill="#50e0c0" stroke="none" stroke-width="0.00" /><ellipse cx="1370.0" cy="1000.0" rx="30.0" ry="25.0" fill="#58e0d0" stroke="none" stroke-width="0.00" /><ellipse cx="800.0" cy="1798.0" rx="35.0" ry="25.0" fill="#50d8c8" stroke="none" stroke-width="0.00" /><ellipse cx="170.0" cy="1958.0" rx="40.0" ry="22.0" fill="#58d8c8" stroke="none" stroke-width="0.00" /><ellipse cx="640.0" cy="330.0" rx="30.0" ry="45.0" fill="#eeb050" stroke="none" stroke-width="0.00" transform="rotate(20 640 330)"/><ellipse cx="700.0" cy="230.0" rx="60.0" ry="25.0" fill="#f0c058" stroke="none" stroke-width="0.00" /><ellipse cx="100.0" cy="1468.0" rx="45.0" ry="70.0" fill="#f0b858" stroke="none" stroke-width="0.00" /><ellipse cx="-90.0" cy="1235.0" rx="75.0" ry="140.0" fill="#f2a646" stroke="none" stroke-width="0.00" /></g>
<rect x="-140" y="40" width="2310" height="2620" filter="url(#mnoise)" opacity="0.55"/>
<rect x="-140" y="40" width="2310" height="2620" filter="url(#mnoise2)" opacity="0.5"/>
<g filter="url(#coast)"><path d="M1450.0 165.0 C1470.0 166.7 1511.7 184.2 1520.0 200.0 C1528.3 215.8 1508.3 243.3 1500.0 260.0 C1491.7 276.7 1471.7 287.5 1470.0 300.0 C1468.3 312.5 1473.2 337.3 1490.0 335.0 C1506.8 332.7 1546.5 297.8 1571.0 286.0 C1595.5 274.2 1620.5 269.5 1637.0 264.0 C1653.5 258.5 1658.2 253.2 1670.0 253.0 C1681.8 252.8 1691.7 257.7 1708.0 263.0 C1724.3 268.3 1758.8 270.3 1768.0 285.0 C1777.2 299.7 1769.3 331.7 1763.0 351.0 C1756.7 370.3 1733.7 386.3 1730.0 401.0 C1726.3 415.7 1731.0 431.7 1741.0 439.0 C1751.0 446.3 1774.5 445.0 1790.0 445.0 C1805.5 445.0 1820.2 436.3 1834.0 439.0 C1847.8 441.7 1864.7 446.3 1873.0 461.0 C1881.3 475.7 1889.5 512.3 1884.0 527.0 C1878.5 541.7 1843.7 538.0 1840.0 549.0 C1836.3 560.0 1855.7 576.5 1862.0 593.0 C1868.3 609.5 1880.8 631.5 1878.0 648.0 C1875.2 664.5 1847.7 676.5 1845.0 692.0 C1842.3 707.5 1863.8 730.0 1862.0 741.0 C1860.2 752.0 1827.7 758.0 1834.0 758.0 C1840.3 758.0 1875.3 747.5 1900.0 741.0 C1924.7 734.5 1954.5 727.2 1982.0 719.0 C2009.5 710.8 2045.7 708.5 2065.0 692.0 C2084.3 675.5 2094.3 645.7 2098.0 620.0 C2101.7 594.3 2096.2 570.0 2087.0 538.0 C2077.8 506.0 2057.7 459.2 2043.0 428.0 C2028.3 396.8 2013.7 371.2 1999.0 351.0 C1984.3 330.8 1965.2 318.0 1955.0 307.0 C1944.8 296.0 1938.0 292.3 1938.0 285.0 C1938.0 277.7 1938.5 275.8 1955.0 263.0 C1971.5 250.2 2009.5 228.0 2037.0 208.0 C2064.5 188.0 2103.5 167.7 2120.0 143.0 C2136.5 118.3 2122.7 78.8 2136.0 60.0 C2149.3 41.2 2189.3 -403.3 2200.0 30.0 C2210.7 463.3 2490.8 2223.6 2200.0 2660.0 C1909.2 3096.4 748.3 2663.5 455.0 2648.2 C161.7 2632.9 449.2 2598.2 440.0 2568.2 C430.8 2538.2 417.5 2501.5 400.0 2468.2 C382.5 2434.9 360.0 2401.5 335.0 2368.2 C310.0 2334.9 274.2 2299.9 250.0 2268.2 C225.8 2236.5 198.3 2206.5 190.0 2178.2 C181.7 2149.9 186.7 2126.5 200.0 2098.2 C213.3 2069.9 241.7 2031.5 270.0 2008.2 C298.3 1984.9 345.0 1970.7 370.0 1958.2 C395.0 1945.7 395.0 1931.5 420.0 1933.2 C445.0 1934.9 499.2 1946.5 520.0 1968.2 C540.8 1989.9 537.5 2061.5 545.0 2063.2 C552.5 2064.9 555.8 1998.7 565.0 1978.2 C574.2 1957.7 577.5 1951.9 600.0 1940.2 C622.5 1928.5 666.7 1921.9 700.0 1908.2 C733.3 1894.5 766.7 1874.9 800.0 1858.2 C833.3 1841.5 866.7 1817.9 900.0 1808.2 C933.3 1798.5 970.0 1808.5 1000.0 1800.2 C1030.0 1791.9 1050.0 1778.5 1080.0 1758.2 C1110.0 1737.9 1154.7 1701.5 1180.0 1678.2 C1205.3 1654.9 1213.7 1639.9 1232.0 1618.2 C1250.3 1596.5 1274.5 1573.2 1290.0 1548.2 C1305.5 1523.2 1310.0 1496.5 1325.0 1468.2 C1340.0 1439.9 1362.5 1403.2 1380.0 1378.2 C1397.5 1353.2 1415.0 1331.2 1430.0 1318.2 C1445.0 1305.2 1458.3 1319.7 1470.0 1300.0 C1481.7 1280.3 1498.3 1223.3 1500.0 1200.0 C1501.7 1176.7 1496.7 1171.7 1480.0 1160.0 C1463.3 1148.3 1405.0 1141.7 1400.0 1130.0 C1395.0 1118.3 1438.3 1105.0 1450.0 1090.0 C1461.7 1075.0 1473.3 1058.3 1470.0 1040.0 C1466.7 1021.7 1441.7 1008.3 1430.0 980.0 C1418.3 951.7 1415.0 901.7 1400.0 870.0 C1385.0 838.3 1361.7 818.3 1340.0 790.0 C1318.3 761.7 1271.7 728.3 1270.0 700.0 C1268.3 671.7 1310.0 643.3 1330.0 620.0 C1350.0 596.7 1365.0 576.7 1390.0 560.0 C1415.0 543.3 1451.7 533.3 1480.0 520.0 C1508.3 506.7 1553.3 493.3 1560.0 480.0 C1566.7 466.7 1540.0 450.0 1520.0 440.0 C1500.0 430.0 1463.3 420.0 1440.0 420.0 C1416.7 420.0 1400.0 426.7 1380.0 440.0 C1360.0 453.3 1341.7 490.0 1320.0 500.0 C1298.3 510.0 1265.0 510.0 1250.0 500.0 C1235.0 490.0 1245.0 456.7 1230.0 440.0 C1215.0 423.3 1176.7 415.0 1160.0 400.0 C1143.3 385.0 1123.3 366.7 1130.0 350.0 C1136.7 333.3 1173.3 315.0 1200.0 300.0 C1226.7 285.0 1266.7 271.7 1290.0 260.0 C1313.3 248.3 1321.7 241.7 1340.0 230.0 C1358.3 218.3 1381.7 200.8 1400.0 190.0 C1418.3 179.2 1430.0 163.3 1450.0 165.0Z" fill="#f7f5fa" stroke="none" stroke-width="0.00" /></g>
<g clip-path="url(#seaclip)"><g filter="url(#mb4)"><polygon points="1500.0,1378.2 1800.0,1298.2 2160.0,1218.2 2160.0,1648.2 1900.0,1698.2 1600.0,1718.2 1450.0,1618.2" fill="#e6e9f3" /><polygon points="1490.0,1788.2 1700.0,1748.2 1900.0,1658.2 2160.0,1468.2 2160.0,2658.2 1500.0,2658.2 1530.0,2418.2 1550.0,2218.2 1490.0,2018.2" fill="#a9a7f7" /><polygon points="1720.0,1818.2 2090.0,1533.2 2130.0,1573.2 1820.0,1818.2" fill="#8d7ee6" /><polygon points="600.0,2658.2 690.0,2328.2 900.0,2198.2 1150.0,2038.2 1320.0,1888.2 1420.0,2018.2 1400.0,2218.2 1330.0,2418.2 1300.0,2658.2" fill="#c3c4f3" /><polygon points="1300.0,1918.2 1500.0,1918.2 1520.0,2218.2 1300.0,2218.2" fill="#c4c6f2" /><polygon points="2136.0,60.0 2200.0,30.0 2200.0,700.0 2098.0,640.0 2087.0,538.0 2043.0,428.0 1980.0,330.0 2037.0,230.0 2120.0,150.0" fill="#d2d6ea" /><ellipse cx="885.0" cy="2458.2" rx="55.0" ry="35.0" fill="#f2f2f8" stroke="none" stroke-width="0.00" transform="rotate(-25 885 2458)"/><ellipse cx="1480.0" cy="2198.2" rx="25.0" ry="70.0" fill="#eeeef6" stroke="none" stroke-width="0.00" /><ellipse cx="1730.0" cy="2398.2" rx="45.0" ry="90.0" fill="#bcbcf0" stroke="none" stroke-width="0.00" transform="rotate(15 1730 2398)"/></g></g>
<path d="M1440.0 1598.2 C1452.0 1598.2 1476.7 1601.5 1482.0 1618.2 C1487.3 1634.9 1478.7 1669.9 1472.0 1698.2 C1465.3 1726.5 1453.7 1758.2 1442.0 1788.2 C1430.3 1818.2 1411.5 1861.2 1402.0 1878.2 C1392.5 1895.2 1392.0 1900.2 1385.0 1890.2 C1378.0 1880.2 1366.7 1841.9 1360.0 1818.2 C1353.3 1794.5 1343.3 1773.2 1345.0 1748.2 C1346.7 1723.2 1359.2 1689.9 1370.0 1668.2 C1380.8 1646.5 1398.3 1629.9 1410.0 1618.2 C1421.7 1606.5 1428.0 1598.2 1440.0 1598.2Z" fill="#a9e274" stroke="none" stroke-width="0.00" /><ellipse cx="1412.0" cy="1728.2" rx="20.0" ry="85.0" fill="#efb544" stroke="none" stroke-width="0.00" transform="rotate(18 1412 1728)" filter="url(#mb3)"/><path d="M420.0 2168.2 C421.7 2153.2 423.3 2132.9 440.0 2118.2 C456.7 2103.5 493.3 2085.2 520.0 2080.2 C546.7 2075.2 586.3 2080.2 600.0 2088.2 C613.7 2096.2 608.7 2109.9 602.0 2128.2 C595.3 2146.5 580.3 2181.5 560.0 2198.2 C539.7 2214.9 501.7 2226.5 480.0 2228.2 C458.3 2229.9 440.0 2218.2 430.0 2208.2 C420.0 2198.2 418.3 2183.2 420.0 2168.2Z" fill="#a2e87a" stroke="#8ab070" stroke-width="3.00" /><path d="M1385.0 2223.2 C1401.3 2208.2 1448.8 2204.0 1470.0 2208.2 C1491.2 2212.4 1503.3 2226.5 1512.0 2248.2 C1520.7 2269.9 1528.2 2309.9 1522.0 2338.2 C1515.8 2366.5 1487.8 2388.2 1475.0 2418.2 C1462.2 2448.2 1446.7 2478.2 1445.0 2518.2 C1443.3 2558.2 1485.0 2634.9 1465.0 2658.2 C1445.0 2681.5 1349.2 2689.9 1325.0 2658.2 C1300.8 2626.5 1313.8 2511.5 1320.0 2468.2 C1326.2 2424.9 1353.3 2426.5 1362.0 2398.2 C1370.7 2369.9 1368.2 2327.4 1372.0 2298.2 C1375.8 2269.0 1368.7 2238.2 1385.0 2223.2Z" fill="#a8e272" stroke="none" stroke-width="0.00" /><ellipse cx="1412.0" cy="2328.2" rx="22.0" ry="90.0" fill="#efc850" stroke="none" stroke-width="0.00" transform="rotate(8 1412 2328)" filter="url(#mb3)"/><ellipse cx="1860.0" cy="855.0" rx="30.0" ry="11.0" fill="#a0d878" stroke="none" stroke-width="0.00" transform="rotate(-12 1860 855)"/><ellipse cx="2132.0" cy="860.0" rx="14.0" ry="30.0" fill="#a0d878" stroke="none" stroke-width="0.00" /><ellipse cx="1540.0" cy="2618.2" rx="30.0" ry="14.0" fill="#90d870" stroke="none" stroke-width="0.00" />
<polyline points="700.0,1225.0 760.0,1180.0 850.0,1112.0 905.0,1150.0 960.0,1175.0 1020.0,1160.0 1085.0,1110.0 1150.0,1085.0 1190.0,1040.0 1230.0,965.0 1295.0,960.0" fill="none" stroke="#8a8ab4" stroke-width="5.00" /><polyline points="1160.0,880.0 1215.0,860.0 1270.0,880.0 1290.0,940.0" fill="none" stroke="#8a8ab4" stroke-width="5.00" /><ellipse cx="1350.0" cy="1052.0" rx="24.0" ry="22.0" fill="#8a78e2" stroke="none" stroke-width="0.00" /><ellipse cx="1217.0" cy="860.0" rx="14.0" ry="10.0" fill="#8a78e2" stroke="none" stroke-width="0.00" /><ellipse cx="1038.0" cy="1250.0" rx="22.0" ry="16.0" fill="#8a78e2" stroke="none" stroke-width="0.00" /><ellipse cx="735.0" cy="1245.0" rx="35.0" ry="28.0" fill="#8890a8" stroke="none" stroke-width="0.00" /><ellipse cx="1020.0" cy="1265.0" rx="30.0" ry="18.0" fill="#8890a8" stroke="none" stroke-width="0.00" transform="rotate(60 1020 1265)"/>
<path d="M1125.0 355.0 C1128.3 338.3 1157.5 324.2 1180.0 315.0 C1202.5 305.8 1240.0 308.8 1260.0 300.0 C1280.0 291.2 1276.7 263.3 1300.0 262.0 C1323.3 260.7 1378.0 294.0 1400.0 292.0 C1422.0 290.0 1420.3 255.0 1432.0 250.0 C1443.7 245.0 1465.0 248.7 1470.0 262.0 C1475.0 275.3 1460.0 309.5 1462.0 330.0 C1464.0 350.5 1489.0 373.0 1482.0 385.0 C1475.0 397.0 1436.2 391.2 1420.0 402.0 C1403.8 412.8 1397.5 433.7 1385.0 450.0 C1372.5 466.3 1361.7 487.5 1345.0 500.0 C1328.3 512.5 1302.5 526.7 1285.0 525.0 C1267.5 523.3 1248.8 505.5 1240.0 490.0 C1231.2 474.5 1245.3 444.5 1232.0 432.0 C1218.7 419.5 1177.8 427.8 1160.0 415.0 C1142.2 402.2 1121.7 371.7 1125.0 355.0Z" fill="#dd1414" stroke="none" stroke-width="0.00" /><ellipse cx="1310.0" cy="460.0" rx="40.0" ry="30.0" fill="#f81010" stroke="none" stroke-width="0.00" /><ellipse cx="1345.0" cy="350.0" rx="62.0" ry="26.0" fill="#f7e2e0" stroke="none" stroke-width="0.00" transform="rotate(-8 1345 350)"/><ellipse cx="1480.0" cy="215.0" rx="38.0" ry="48.0" fill="#f6eef0" stroke="none" stroke-width="0.00" transform="rotate(25 1480 215)"/><g fill="#dd1414"><circle cx="1300" cy="250" r="13"/><circle cx="1340" cy="236" r="13"/><circle cx="1365" cy="225" r="13"/><circle cx="1390" cy="205" r="13"/><circle cx="1408" cy="190" r="13"/><circle cx="1432" cy="176" r="13"/><circle cx="1460" cy="170" r="13"/><circle cx="1490" cy="176" r="13"/><circle cx="1510" cy="190" r="13"/><circle cx="1520" cy="212" r="13"/><circle cx="1470" cy="250" r="13"/><circle cx="1440" cy="272" r="13"/><circle cx="1500" cy="330" r="13"/><circle cx="1530" cy="312" r="13"/><circle cx="1560" cy="296" r="13"/><circle cx="1590" cy="282" r="13"/><circle cx="1620" cy="268" r="13"/><circle cx="1642" cy="260" r="13"/><circle cx="1682" cy="250" r="13"/><circle cx="1527" cy="347" r="13"/><circle cx="1557" cy="327" r="13"/><circle cx="1587" cy="316" r="13"/><circle cx="1612" cy="390" r="13"/><circle cx="1590" cy="430" r="13"/><circle cx="1566" cy="460" r="13"/><circle cx="1520" cy="482" r="13"/><circle cx="1482" cy="422" r="13"/><circle cx="1502" cy="442" r="13"/><circle cx="1532" cy="442" r="13"/><circle cx="1440" cy="470" r="13"/><circle cx="1392" cy="532" r="13"/><circle cx="1402" cy="552" r="13"/><circle cx="1422" cy="572" r="13"/><circle cx="1452" cy="542" r="13"/><circle cx="1486" cy="526" r="13"/><circle cx="1542" cy="542" r="13"/><circle cx="1562" cy="562" r="13"/><circle cx="1415" cy="616" r="13"/><circle cx="1466" cy="616" r="13"/><circle cx="1616" cy="620" r="13"/><circle cx="1616" cy="662" r="13"/><circle cx="1616" cy="706" r="13"/><circle cx="1360" cy="706" r="13"/><circle cx="1466" cy="706" r="13"/><circle cx="1520" cy="800" r="13"/><circle cx="1656" cy="800" r="13"/><circle cx="1496" cy="890" r="13"/><circle cx="1576" cy="890" r="13"/><circle cx="1656" cy="890" r="13"/><circle cx="1630" cy="916" r="13"/><circle cx="1600" cy="940" r="13"/><circle cx="1572" cy="962" r="13"/><circle cx="1520" cy="956" r="13"/><circle cx="1542" cy="986" r="13"/><circle cx="1502" cy="1000" r="13"/><circle cx="1442" cy="990" r="13"/><circle cx="1442" cy="1026" r="13"/><circle cx="1466" cy="1052" r="13"/><circle cx="1482" cy="1086" r="13"/></g><polyline points="1360.0,592.0 1335.0,632.0 1310.0,662.0 1278.0,694.0" fill="none" stroke="#dd1414" stroke-width="26.00" stroke-linecap="round" stroke-dasharray="14 24"/><polyline points="1328.0,755.0 1395.0,755.0" fill="none" stroke="#dd1414" stroke-width="26.00" /><path d="M1365.0 800.0 C1373.0 789.5 1408.8 772.0 1420.0 772.0 C1431.2 772.0 1435.3 788.7 1432.0 800.0 C1428.7 811.3 1410.0 834.2 1400.0 840.0 C1390.0 845.8 1377.8 841.7 1372.0 835.0 C1366.2 828.3 1357.0 810.5 1365.0 800.0Z" fill="#dd1414" stroke="none" stroke-width="0.00" /><polyline points="1490.0,1000.0 1550.0,985.0" fill="none" stroke="#dd1414" stroke-width="22.00" stroke-linecap="round"/><polyline points="1430.0,1020.0 1475.0,1050.0" fill="none" stroke="#dd1414" stroke-width="20.00" stroke-linecap="round"/><polyline points="1420.0,430.0 1440.0,470.0" fill="none" stroke="#dd1414" stroke-width="22.00" stroke-linecap="round"/><polyline points="1480.0,420.0 1480.0,470.0" fill="none" stroke="#dd1414" stroke-width="14.00" /><polyline points="1506.0,420.0 1506.0,470.0" fill="none" stroke="#dd1414" stroke-width="14.00" /><polyline points="1532.0,420.0 1532.0,470.0" fill="none" stroke="#dd1414" stroke-width="14.00" /><polyline points="1545.0,535.0 1570.0,570.0" fill="none" stroke="#dd1414" stroke-width="22.00" stroke-linecap="round"/><g fill="#dd1414"><circle cx="1230" cy="1638" r="20"/><circle cx="1065" cy="1783" r="19"/><circle cx="1020" cy="1820" r="14"/><circle cx="970" cy="1834" r="14"/><circle cx="600" cy="1954" r="14"/><circle cx="578" cy="1964" r="14"/><circle cx="483" cy="2244" r="14"/><circle cx="645" cy="2348" r="14"/><circle cx="768" cy="2340" r="14"/><circle cx="743" cy="2388" r="14"/><circle cx="658" cy="2425" r="14"/><circle cx="728" cy="2443" r="14"/><circle cx="525" cy="2478" r="14"/></g><polyline points="908.0,1823.2 870.0,1855.2 820.0,1875.2 772.0,1902.2" fill="none" stroke="#dd1414" stroke-width="34.00" stroke-linecap="round"/><polyline points="700.0,1926.2 655.0,1946.2" fill="none" stroke="#dd1414" stroke-width="34.00" stroke-linecap="round"/><polyline points="700.0,2353.2 718.0,2376.2" fill="none" stroke="#dd1414" stroke-width="24.00" stroke-linecap="round"/><polyline points="1140.0,2534.2 1160.0,2516.2" fill="none" stroke="#dd1414" stroke-width="30.00" stroke-linecap="round"/><path d="M380 1923 L432 1923 L432 1943 L500 1943 L500 2028 L545 2028 L545 2078 L380 2078 Z" fill="#dd1414" stroke="#dd1414" stroke-width="8.00" stroke-linejoin="round"/>
<text class="sans" x="1165" y="397" font-size="52" font-style="italic" fill="#222" textLength="275" lengthAdjust="spacingAndGlyphs">Bohai Sea</text><text class="sans" x="1440" y="772" font-size="52" font-style="italic" fill="#222" textLength="300" lengthAdjust="spacingAndGlyphs">Yellow Sea</text><text class="sans" x="1500" y="1317" font-size="52" font-style="italic" fill="#222" textLength="425" lengthAdjust="spacingAndGlyphs">East China Sea</text><text class="sans" x="648" y="2045" font-size="52" font-style="italic" fill="#222" textLength="470" lengthAdjust="spacingAndGlyphs">South China Sea</text><text x="1912.00" y="2563.20" font-size="205.00" fill="#000" text-anchor="start" >a</text></g></g><rect x="1980.6" y="441" width="519.4" height="589.5" fill="none" stroke="#d8d8d8" stroke-width="1.5"/><line x1="1980.60" y1="444.20" x2="2500.00" y2="444.20" stroke="#111" stroke-width="3.20" stroke-dasharray="18.4 18.4" stroke-dashoffset="-5"/><line x1="1980.60" y1="1030.60" x2="2500.00" y2="1030.60" stroke="#111" stroke-width="3.20" stroke-dasharray="18.4 18.4" stroke-dashoffset="-5"/><line x1="2498.60" y1="441.00" x2="2498.60" y2="1031.00" stroke="#111" stroke-width="3.20" stroke-dasharray="18.4 18.4" stroke-dashoffset="-22"/><line x1="1981.20" y1="441.00" x2="1981.20" y2="1031.00" stroke="#111" stroke-width="3.20" stroke-dasharray="18.4 18.4" stroke-dashoffset="-22"/><text class="sans" x="2042.0" y="1054.0" font-size="17.5" font-style="italic" fill="#111" text-anchor="middle">05°E</text><text class="sans" x="2129.5" y="1054.0" font-size="17.5" font-style="italic" fill="#111" text-anchor="middle">110°E</text><text class="sans" x="2222.0" y="1054.0" font-size="17.5" font-style="italic" fill="#111" text-anchor="middle">115°E</text><text class="sans" x="2314.5" y="1054.0" font-size="17.5" font-style="italic" fill="#111" text-anchor="middle">120°E</text><text class="sans" x="2407.0" y="1054.0" font-size="17.5" font-style="italic" fill="#111" text-anchor="middle">125°E</text><text class="sans" x="2499.5" y="1054.0" font-size="17.5" font-style="italic" fill="#111" text-anchor="middle">130°E</text><text class="sans" x="1973.0" y="702.5" font-size="17.5" font-style="italic" fill="#111" text-anchor="end">30°N</text><text class="sans" transform="translate(2513,1026) rotate(-90)" font-size="10.5" font-style="italic" font-weight="bold" fill="#222" textLength="94" lengthAdjust="spacingAndGlyphs">Ocean Data View</text>
<g transform="translate(1380,160) scale(0.326926)" ><rect x="60.00" y="30.00" width="1905.30" height="1560.00" fill="#fff" />
<rect x="301.00" y="275.00" width="104.00" height="1175.00" fill="#aed4e8" />
<rect x="301.00" y="158.00" width="104.00" height="117.00" fill="#4a9fe0" /><rect x="304.5" y="161.5" width="97.0" height="110.0" rx="5" fill="#4fa7df"/>
<rect x="301.00" y="112.00" width="104.00" height="46.00" fill="#bfe6a2" />
<rect x="429.00" y="545.00" width="104.00" height="905.00" fill="#aed4e8" />
<rect x="429.00" y="450.00" width="104.00" height="95.00" fill="#4a9fe0" /><rect x="432.5" y="453.5" width="97.0" height="88.0" rx="5" fill="#4fa7df"/>
<rect x="429.00" y="345.00" width="104.00" height="105.00" fill="#bfe6a2" />
<rect x="429.00" y="340.00" width="104.00" height="5.00" fill="#62d162" />
<rect x="429.00" y="322.00" width="104.00" height="18.00" fill="#e2c8a4" /><rect x="432.5" y="325.5" width="97.0" height="11.0" rx="5" fill="#f6cc8c"/>
<rect x="429.00" y="265.00" width="104.00" height="33.00" fill="#dcaaa0" /><rect x="432.5" y="268.5" width="97.0" height="26.0" rx="5" fill="#f888a8"/>
<rect x="1069.00" y="1195.00" width="104.00" height="255.00" fill="#aed4e8" />
<rect x="1069.00" y="1175.00" width="104.00" height="20.00" fill="#4a9fe0" /><rect x="1072.5" y="1178.5" width="97.0" height="13.0" rx="5" fill="#4fa7df"/>
<rect x="1069.00" y="1058.00" width="104.00" height="117.00" fill="#bfe6a2" />
<rect x="1069.00" y="995.00" width="104.00" height="63.00" fill="#3f9d4c" /><rect x="1072.5" y="998.5" width="97.0" height="56.0" rx="5" fill="#62d162"/>
<rect x="1197.00" y="1375.00" width="104.00" height="75.00" fill="#aed4e8" />
<rect x="1197.00" y="1192.00" width="104.00" height="183.00" fill="#4a9fe0" /><rect x="1200.5" y="1195.5" width="97.0" height="176.0" rx="5" fill="#4fa7df"/>
<rect x="1197.00" y="1152.00" width="104.00" height="40.00" fill="#bfe6a2" />
<rect x="1197.00" y="515.00" width="104.00" height="637.00" fill="#3f9d4c" /><rect x="1200.5" y="518.5" width="97.0" height="630.0" rx="5" fill="#62d162"/>
<rect x="1325.00" y="1445.00" width="104.00" height="5.00" fill="#aed4e8" />
<rect x="1325.00" y="1415.00" width="104.00" height="30.00" fill="#4a9fe0" /><rect x="1328.5" y="1418.5" width="97.0" height="23.0" rx="5" fill="#4fa7df"/>
<rect x="1325.00" y="1392.00" width="104.00" height="23.00" fill="#d06a3c" />
<rect x="1581.00" y="1208.00" width="104.00" height="242.00" fill="#aed4e8" />
<rect x="1581.00" y="1062.00" width="104.00" height="146.00" fill="#4a9fe0" /><rect x="1584.5" y="1065.5" width="97.0" height="139.0" rx="5" fill="#4fa7df"/>
<rect x="1581.00" y="618.00" width="104.00" height="444.00" fill="#bfe6a2" />
<rect x="1581.00" y="483.00" width="104.00" height="135.00" fill="#3f9d4c" /><rect x="1584.5" y="486.5" width="97.0" height="128.0" rx="5" fill="#62d162"/>
<rect x="1581.00" y="478.00" width="104.00" height="5.00" fill="#f6cc8c" />
<rect x="1581.00" y="462.00" width="104.00" height="16.00" fill="#e6a878" /><rect x="1584.5" y="465.5" width="97.0" height="9.0" rx="5" fill="#f89838"/>
<rect x="1581.00" y="452.00" width="104.00" height="10.00" fill="#c9c1dc" />
<rect x="1709.00" y="1408.00" width="104.00" height="42.00" fill="#aed4e8" />
<rect x="1709.00" y="1340.00" width="104.00" height="68.00" fill="#4a9fe0" /><rect x="1712.5" y="1343.5" width="97.0" height="61.0" rx="5" fill="#4fa7df"/>
<rect x="1709.00" y="1298.00" width="104.00" height="42.00" fill="#bfe6a2" />
<rect x="1709.00" y="1238.00" width="104.00" height="60.00" fill="#3f9d4c" /><rect x="1712.5" y="1241.5" width="97.0" height="53.0" rx="5" fill="#62d162"/>
<rect x="1837.00" y="1438.00" width="104.00" height="12.00" fill="#bfe6a2" />
<rect x="1837.00" y="1415.00" width="104.00" height="23.00" fill="#3f9d4c" /><rect x="1840.5" y="1418.5" width="97.0" height="16.0" rx="5" fill="#62d162"/>
<rect x="290.0" y="108.0" width="1662.0" height="1342.0" fill="none" stroke="#222" stroke-width="5.5"/>
<rect x="278.00" y="570.00" width="1686.00" height="22.00" fill="#fff" />
<line x1="276.00" y1="575.00" x2="304.00" y2="561.00" stroke="#222" stroke-width="4.50" />
<line x1="276.00" y1="601.00" x2="304.00" y2="587.00" stroke="#222" stroke-width="4.50" />
<line x1="1938.00" y1="575.00" x2="1966.00" y2="561.00" stroke="#222" stroke-width="4.50" />
<line x1="1938.00" y1="601.00" x2="1966.00" y2="587.00" stroke="#222" stroke-width="4.50" />
<rect x="278.00" y="298.00" width="1686.00" height="24.00" fill="#fff" />
<line x1="276.00" y1="303.00" x2="304.00" y2="289.00" stroke="#222" stroke-width="4.50" />
<line x1="276.00" y1="331.00" x2="304.00" y2="317.00" stroke="#222" stroke-width="4.50" />
<line x1="1938.00" y1="303.00" x2="1966.00" y2="289.00" stroke="#222" stroke-width="4.50" />
<line x1="1938.00" y1="331.00" x2="1966.00" y2="317.00" stroke="#222" stroke-width="4.50" />
<line x1="290.00" y1="1450.00" x2="302.00" y2="1450.00" stroke="#222" stroke-width="4.00" />
<text x="278.00" y="1467.82" font-size="54.00" fill="#111" text-anchor="end" >0</text>
<line x1="290.00" y1="1250.00" x2="302.00" y2="1250.00" stroke="#222" stroke-width="4.00" />
<text x="278.00" y="1267.82" font-size="54.00" fill="#111" text-anchor="end" >30</text>
<line x1="290.00" y1="1048.00" x2="302.00" y2="1048.00" stroke="#222" stroke-width="4.00" />
<text x="278.00" y="1065.82" font-size="54.00" fill="#111" text-anchor="end" >60</text>
<line x1="290.00" y1="845.00" x2="302.00" y2="845.00" stroke="#222" stroke-width="4.00" />
<text x="278.00" y="862.82" font-size="54.00" fill="#111" text-anchor="end" >90</text>
<line x1="290.00" y1="643.00" x2="302.00" y2="643.00" stroke="#222" stroke-width="4.00" />
<text x="278.00" y="660.82" font-size="54.00" fill="#111" text-anchor="end" >120</text>
<line x1="290.00" y1="498.00" x2="302.00" y2="498.00" stroke="#222" stroke-width="4.00" />
<text x="278.00" y="515.82" font-size="54.00" fill="#111" text-anchor="end" >200</text>
<line x1="290.00" y1="400.00" x2="302.00" y2="400.00" stroke="#222" stroke-width="4.00" />
<text x="278.00" y="417.82" font-size="54.00" fill="#111" text-anchor="end" >300</text>
<line x1="290.00" y1="232.00" x2="302.00" y2="232.00" stroke="#222" stroke-width="4.00" />
<text x="278.00" y="249.82" font-size="54.00" fill="#111" text-anchor="end" >600</text>
<line x1="290.00" y1="140.00" x2="302.00" y2="140.00" stroke="#222" stroke-width="4.00" />
<text x="278.00" y="157.82" font-size="54.00" fill="#111" text-anchor="end" >900</text>
<line x1="353.00" y1="1450.00" x2="353.00" y2="1438.00" stroke="#222" stroke-width="4.00" />
<text x="353.00" y="1507.00" font-size="56.00" fill="#111" text-anchor="middle" >2008</text>
<line x1="481.00" y1="1450.00" x2="481.00" y2="1438.00" stroke="#222" stroke-width="4.00" />
<text x="481.00" y="1507.00" font-size="56.00" fill="#111" text-anchor="middle" >2009</text>
<line x1="609.00" y1="1450.00" x2="609.00" y2="1438.00" stroke="#222" stroke-width="4.00" />
<text x="609.00" y="1507.00" font-size="56.00" fill="#111" text-anchor="middle" >2010</text>
<line x1="737.00" y1="1450.00" x2="737.00" y2="1438.00" stroke="#222" stroke-width="4.00" />
<text x="737.00" y="1507.00" font-size="56.00" fill="#111" text-anchor="middle" >2011</text>
<line x1="865.00" y1="1450.00" x2="865.00" y2="1438.00" stroke="#222" stroke-width="4.00" />
<text x="865.00" y="1507.00" font-size="56.00" fill="#111" text-anchor="middle" >2012</text>
<line x1="993.00" y1="1450.00" x2="993.00" y2="1438.00" stroke="#222" stroke-width="4.00" />
<text x="993.00" y="1507.00" font-size="56.00" fill="#111" text-anchor="middle" >2013</text>
<line x1="1121.00" y1="1450.00" x2="1121.00" y2="1438.00" stroke="#222" stroke-width="4.00" />
<text x="1121.00" y="1507.00" font-size="56.00" fill="#111" text-anchor="middle" >2014</text>
<line x1="1249.00" y1="1450.00" x2="1249.00" y2="1438.00" stroke="#222" stroke-width="4.00" />
<text x="1249.00" y="1507.00" font-size="56.00" fill="#111" text-anchor="middle" >2015</text>
<line x1="1377.00" y1="1450.00" x2="1377.00" y2="1438.00" stroke="#222" stroke-width="4.00" />
<text x="1377.00" y="1507.00" font-size="56.00" fill="#111" text-anchor="middle" >2016</text>
<line x1="1505.00" y1="1450.00" x2="1505.00" y2="1438.00" stroke="#222" stroke-width="4.00" />
<text x="1505.00" y="1507.00" font-size="56.00" fill="#111" text-anchor="middle" >2017</text>
<line x1="1633.00" y1="1450.00" x2="1633.00" y2="1438.00" stroke="#222" stroke-width="4.00" />
<text x="1633.00" y="1507.00" font-size="56.00" fill="#111" text-anchor="middle" >2018</text>
<line x1="1761.00" y1="1450.00" x2="1761.00" y2="1438.00" stroke="#222" stroke-width="4.00" />
<text x="1761.00" y="1507.00" font-size="56.00" fill="#111" text-anchor="middle" >2019</text>
<line x1="1889.00" y1="1450.00" x2="1889.00" y2="1438.00" stroke="#222" stroke-width="4.00" />
<text x="1889.00" y="1507.00" font-size="56.00" fill="#111" text-anchor="middle" >2020</text>
<text x="1080.00" y="1577.00" font-size="68.00" fill="#111" text-anchor="middle" >Year</text>
<text transform="translate(172.0,1112.0) rotate(-90)" font-size="76.0" fill="#111" textLength="672.0" lengthAdjust="spacingAndGlyphs">Concentration(ng/L)</text>
<text x="928.0" y="206.0" font-size="76.0" fill="#111" textLength="317.0" lengthAdjust="spacingAndGlyphs">Bohai Sea</text>
<text x="38.00" y="210.00" font-size="136.00" fill="#000" text-anchor="start" >b</text>
<rect x="1740.0" y="135.0" width="195.0" height="440.0" fill="#fff" stroke="#777" stroke-width="4"/>
<rect x="1746.00" y="141.00" width="80.00" height="44.00" fill="#cfc4d8" /><rect x="1749.5" y="144.5" width="73.0" height="37.0" rx="5" fill="#c9c1dc"/>
<text x="1840.00" y="176.00" font-size="38.00" fill="#111" text-anchor="start" >OXO</text>
<rect x="1746.00" y="189.00" width="80.00" height="44.00" fill="#e6a878" /><rect x="1749.5" y="192.5" width="73.0" height="37.0" rx="5" fill="#f89838"/>
<text x="1840.00" y="224.00" font-size="38.00" fill="#111" text-anchor="start" >FLU</text>
<rect x="1746.00" y="237.00" width="80.00" height="44.00" fill="#e2c8a4" /><rect x="1749.5" y="240.5" width="73.0" height="37.0" rx="5" fill="#f6cc8c"/>
<text x="1840.00" y="272.00" font-size="38.00" fill="#111" text-anchor="start" >SAR</text>
<rect x="1746.00" y="285.00" width="80.00" height="44.00" fill="#d06a3c" />
<text x="1840.00" y="320.00" font-size="38.00" fill="#111" text-anchor="start" >LOM</text>
<rect x="1746.00" y="333.00" width="80.00" height="44.00" fill="#dcaaa0" /><rect x="1749.5" y="336.5" width="73.0" height="37.0" rx="5" fill="#f888a8"/>
<text x="1840.00" y="368.00" font-size="38.00" fill="#111" text-anchor="start" >ENO</text>
<rect x="1746.00" y="381.00" width="80.00" height="44.00" fill="#3f9d4c" /><rect x="1749.5" y="384.5" width="73.0" height="37.0" rx="5" fill="#62d162"/>
<text x="1840.00" y="416.00" font-size="38.00" fill="#111" text-anchor="start" >ENR</text>
<rect x="1746.00" y="429.00" width="80.00" height="44.00" fill="#bfe6a2" />
<text x="1840.00" y="464.00" font-size="38.00" fill="#111" text-anchor="start" >CIP</text>
<rect x="1746.00" y="477.00" width="80.00" height="44.00" fill="#4a9fe0" /><rect x="1749.5" y="480.5" width="73.0" height="37.0" rx="5" fill="#4fa7df"/>
<text x="1840.00" y="512.00" font-size="38.00" fill="#111" text-anchor="start" >OFL</text>
<rect x="1746.00" y="525.00" width="80.00" height="44.00" fill="#aed4e8" />
<text x="1840.00" y="560.00" font-size="38.00" fill="#111" text-anchor="start" >NOR</text></g>
<g transform="translate(1380,720) scale(0.326926)" ><rect x="20.00" y="61.00" width="1945.30" height="1599.00" fill="#fff" />
<rect x="277.00" y="1255.00" width="96.00" height="197.00" fill="#aed4e8" />
<rect x="277.00" y="1140.00" width="96.00" height="115.00" fill="#4a9fe0" /><rect x="280.5" y="1143.5" width="89.0" height="108.0" rx="5" fill="#4fa7df"/>
<rect x="384.00" y="1190.00" width="96.00" height="262.00" fill="#aed4e8" />
<rect x="384.00" y="975.00" width="96.00" height="215.00" fill="#4a9fe0" /><rect x="387.5" y="978.5" width="89.0" height="208.0" rx="5" fill="#4fa7df"/>
<rect x="633.00" y="538.00" width="108.00" height="914.00" fill="#aed4e8" />
<rect x="633.00" y="448.00" width="108.00" height="90.00" fill="#4a9fe0" /><rect x="636.5" y="451.5" width="101.0" height="83.0" rx="5" fill="#4fa7df"/>
<rect x="633.00" y="415.00" width="108.00" height="33.00" fill="#bfe6a2" />
<rect x="753.00" y="1100.00" width="108.00" height="352.00" fill="#aed4e8" />
<rect x="753.00" y="1018.00" width="108.00" height="82.00" fill="#4a9fe0" /><rect x="756.5" y="1021.5" width="101.0" height="75.0" rx="5" fill="#4fa7df"/>
<rect x="753.00" y="608.00" width="108.00" height="410.00" fill="#bfe6a2" />
<rect x="753.00" y="383.00" width="108.00" height="225.00" fill="#3f9d4c" /><rect x="756.5" y="386.5" width="101.0" height="218.0" rx="5" fill="#62d162"/>
<rect x="753.00" y="342.00" width="108.00" height="13.00" fill="#62d162" />
<rect x="873.00" y="1432.00" width="108.00" height="20.00" fill="#3f9fb0" />
<rect x="873.00" y="1312.00" width="108.00" height="120.00" fill="#bfe6a2" />
<rect x="873.00" y="1275.00" width="108.00" height="37.00" fill="#3f9d4c" /><rect x="876.5" y="1278.5" width="101.0" height="30.0" rx="5" fill="#62d162"/>
<rect x="1110.00" y="1365.00" width="108.00" height="87.00" fill="#aed4e8" />
<rect x="1110.00" y="1360.00" width="108.00" height="5.00" fill="#4fa7df" />
<rect x="1110.00" y="1235.00" width="108.00" height="125.00" fill="#bfe6a2" />
<rect x="1110.00" y="1228.00" width="108.00" height="7.00" fill="#62d162" />
<rect x="1231.00" y="280.00" width="108.00" height="1172.00" fill="#aed4e8" />
<rect x="1231.00" y="242.00" width="108.00" height="38.00" fill="#4a9fe0" /><rect x="1234.5" y="245.5" width="101.0" height="31.0" rx="5" fill="#4fa7df"/>
<rect x="1231.00" y="132.00" width="108.00" height="110.00" fill="#bfe6a2" />
<rect x="1349.00" y="1408.00" width="108.00" height="44.00" fill="#aed4e8" />
<rect x="1349.00" y="1400.00" width="108.00" height="8.00" fill="#4fa7df" />
<rect x="1349.00" y="1385.00" width="108.00" height="15.00" fill="#bfe6a2" />
<rect x="1349.00" y="1378.00" width="108.00" height="7.00" fill="#f6cc8c" />
<rect x="1469.00" y="1278.00" width="108.00" height="174.00" fill="#aed4e8" />
<rect x="1469.00" y="1170.00" width="108.00" height="108.00" fill="#4a9fe0" /><rect x="1472.5" y="1173.5" width="101.0" height="101.0" rx="5" fill="#4fa7df"/>
<rect x="1469.00" y="1112.00" width="108.00" height="58.00" fill="#3f9d4c" /><rect x="1472.5" y="1115.5" width="101.0" height="51.0" rx="5" fill="#62d162"/>
<rect x="1469.00" y="985.00" width="108.00" height="127.00" fill="#dcaaa0" /><rect x="1472.5" y="988.5" width="101.0" height="120.0" rx="5" fill="#f888a8"/>
<rect x="1589.00" y="1410.00" width="108.00" height="42.00" fill="#aed4e8" />
<rect x="1589.00" y="1395.00" width="108.00" height="15.00" fill="#bfe6a2" />
<rect x="1589.00" y="1362.00" width="108.00" height="33.00" fill="#dcaaa0" /><rect x="1592.5" y="1365.5" width="101.0" height="26.0" rx="5" fill="#f888a8"/>
<rect x="1828.00" y="1440.00" width="108.00" height="12.00" fill="#aed4e8" />
<rect x="1828.00" y="1422.00" width="108.00" height="18.00" fill="#4a9fe0" /><rect x="1831.5" y="1425.5" width="101.0" height="11.0" rx="5" fill="#4fa7df"/>
<rect x="1828.00" y="1405.00" width="108.00" height="17.00" fill="#bfe6a2" />
<rect x="1828.00" y="1395.00" width="108.00" height="10.00" fill="#62d162" />
<rect x="262.0" y="98.0" width="1688.0" height="1354.0" fill="none" stroke="#222" stroke-width="5.5"/>
<rect x="250.00" y="357.00" width="1712.00" height="24.00" fill="#fff" />
<line x1="248.00" y1="362.00" x2="276.00" y2="348.00" stroke="#222" stroke-width="4.50" />
<line x1="248.00" y1="390.00" x2="276.00" y2="376.00" stroke="#222" stroke-width="4.50" />
<line x1="1936.00" y1="362.00" x2="1964.00" y2="348.00" stroke="#222" stroke-width="4.50" />
<line x1="1936.00" y1="390.00" x2="1964.00" y2="376.00" stroke="#222" stroke-width="4.50" />
<rect x="545.00" y="92.00" width="25.00" height="12.00" fill="#fff" />
<line x1="536.00" y1="110.00" x2="554.00" y2="86.00" stroke="#222" stroke-width="4.50" />
<line x1="561.00" y1="110.00" x2="579.00" y2="86.00" stroke="#222" stroke-width="4.50" />
<rect x="545.00" y="1446.00" width="25.00" height="12.00" fill="#fff" />
<line x1="536.00" y1="1464.00" x2="554.00" y2="1440.00" stroke="#222" stroke-width="4.50" />
<line x1="561.00" y1="1464.00" x2="579.00" y2="1440.00" stroke="#222" stroke-width="4.50" />
<line x1="262.00" y1="1452.00" x2="274.00" y2="1452.00" stroke="#222" stroke-width="4.00" />
<text x="250.00" y="1467.18" font-size="46.00" fill="#111" text-anchor="end" >0</text>
<line x1="262.00" y1="1240.00" x2="274.00" y2="1240.00" stroke="#222" stroke-width="4.00" />
<text x="250.00" y="1255.18" font-size="46.00" fill="#111" text-anchor="end" >10</text>
<line x1="262.00" y1="1025.00" x2="274.00" y2="1025.00" stroke="#222" stroke-width="4.00" />
<text x="250.00" y="1040.18" font-size="46.00" fill="#111" text-anchor="end" >20</text>
<line x1="262.00" y1="812.00" x2="274.00" y2="812.00" stroke="#222" stroke-width="4.00" />
<text x="250.00" y="827.18" font-size="46.00" fill="#111" text-anchor="end" >30</text>
<line x1="262.00" y1="597.00" x2="274.00" y2="597.00" stroke="#222" stroke-width="4.00" />
<text x="250.00" y="612.18" font-size="46.00" fill="#111" text-anchor="end" >40</text>
<line x1="262.00" y1="305.00" x2="274.00" y2="305.00" stroke="#222" stroke-width="4.00" />
<text x="250.00" y="320.18" font-size="46.00" fill="#111" text-anchor="end" >100</text>
<line x1="262.00" y1="200.00" x2="274.00" y2="200.00" stroke="#222" stroke-width="4.00" />
<text x="250.00" y="215.18" font-size="46.00" fill="#111" text-anchor="end" >200</text>
<line x1="262.00" y1="98.00" x2="274.00" y2="98.00" stroke="#222" stroke-width="4.00" />
<text x="250.00" y="113.18" font-size="46.00" fill="#111" text-anchor="end" >300</text>
<line x1="325.00" y1="1452.00" x2="325.00" y2="1440.00" stroke="#222" stroke-width="4.00" />
<text x="325.00" y="1507.00" font-size="50.00" fill="#111" text-anchor="middle" >2004</text>
<line x1="432.00" y1="1452.00" x2="432.00" y2="1440.00" stroke="#222" stroke-width="4.00" />
<text x="432.00" y="1507.00" font-size="50.00" fill="#111" text-anchor="middle" >2005</text>
<line x1="687.00" y1="1452.00" x2="687.00" y2="1440.00" stroke="#222" stroke-width="4.00" />
<text x="687.00" y="1507.00" font-size="50.00" fill="#111" text-anchor="middle" >2011</text>
<line x1="806.50" y1="1452.00" x2="806.50" y2="1440.00" stroke="#222" stroke-width="4.00" />
<text x="806.50" y="1507.00" font-size="50.00" fill="#111" text-anchor="middle" >2012</text>
<line x1="926.00" y1="1452.00" x2="926.00" y2="1440.00" stroke="#222" stroke-width="4.00" />
<text x="926.00" y="1507.00" font-size="50.00" fill="#111" text-anchor="middle" >2013</text>
<line x1="1045.50" y1="1452.00" x2="1045.50" y2="1440.00" stroke="#222" stroke-width="4.00" />
<text x="1045.50" y="1507.00" font-size="50.00" fill="#111" text-anchor="middle" >2014</text>
<line x1="1165.00" y1="1452.00" x2="1165.00" y2="1440.00" stroke="#222" stroke-width="4.00" />
<text x="1165.00" y="1507.00" font-size="50.00" fill="#111" text-anchor="middle" >2015</text>
<line x1="1284.50" y1="1452.00" x2="1284.50" y2="1440.00" stroke="#222" stroke-width="4.00" />
<text x="1284.50" y="1507.00" font-size="50.00" fill="#111" text-anchor="middle" >2016</text>
<line x1="1404.00" y1="1452.00" x2="1404.00" y2="1440.00" stroke="#222" stroke-width="4.00" />
<text x="1404.00" y="1507.00" font-size="50.00" fill="#111" text-anchor="middle" >2017</text>
<line x1="1523.50" y1="1452.00" x2="1523.50" y2="1440.00" stroke="#222" stroke-width="4.00" />
<text x="1523.50" y="1507.00" font-size="50.00" fill="#111" text-anchor="middle" >2018</text>
<line x1="1643.00" y1="1452.00" x2="1643.00" y2="1440.00" stroke="#222" stroke-width="4.00" />
<text x="1643.00" y="1507.00" font-size="50.00" fill="#111" text-anchor="middle" >2019</text>
<line x1="1762.50" y1="1452.00" x2="1762.50" y2="1440.00" stroke="#222" stroke-width="4.00" />
<text x="1762.50" y="1507.00" font-size="50.00" fill="#111" text-anchor="middle" >2020</text>
<line x1="1882.00" y1="1452.00" x2="1882.00" y2="1440.00" stroke="#222" stroke-width="4.00" />
<text x="1882.00" y="1507.00" font-size="50.00" fill="#111" text-anchor="middle" >2021</text>
<text x="1100.00" y="1577.00" font-size="68.00" fill="#111" text-anchor="middle" >Year</text>
<text transform="translate(172.0,1112.0) rotate(-90)" font-size="76.0" fill="#111" textLength="672.0" lengthAdjust="spacingAndGlyphs">Concentration(ng/L)</text>
<text x="647.0" y="188.0" font-size="76.0" fill="#111" textLength="543.0" lengthAdjust="spacingAndGlyphs">South China Sea</text>
<text x="35.00" y="130.00" font-size="136.00" fill="#000" text-anchor="start" >d</text>
<rect x="1718.0" y="122.0" width="197.0" height="350.0" fill="#fff" stroke="#777" stroke-width="4"/>
<rect x="1723.00" y="128.00" width="85.00" height="44.86" fill="#e2c8a4" /><rect x="1726.5" y="131.5" width="78.0" height="37.9" rx="5" fill="#f6cc8c"/>
<text x="1822.00" y="163.43" font-size="38.00" fill="#111" text-anchor="start" >SAR</text>
<rect x="1723.00" y="176.86" width="85.00" height="44.86" fill="#d06a3c" />
<text x="1822.00" y="212.29" font-size="38.00" fill="#111" text-anchor="start" >LOM</text>
<rect x="1723.00" y="225.71" width="85.00" height="44.86" fill="#dcaaa0" /><rect x="1726.5" y="229.2" width="78.0" height="37.9" rx="5" fill="#f888a8"/>
<text x="1822.00" y="261.14" font-size="38.00" fill="#111" text-anchor="start" >ENO</text>
<rect x="1723.00" y="274.57" width="85.00" height="44.86" fill="#3f9d4c" /><rect x="1726.5" y="278.1" width="78.0" height="37.9" rx="5" fill="#62d162"/>
<text x="1822.00" y="310.00" font-size="38.00" fill="#111" text-anchor="start" >ENR</text>
<rect x="1723.00" y="323.43" width="85.00" height="44.86" fill="#bfe6a2" />
<text x="1822.00" y="358.86" font-size="38.00" fill="#111" text-anchor="start" >CIP</text>
<rect x="1723.00" y="372.29" width="85.00" height="44.86" fill="#4a9fe0" /><rect x="1726.5" y="375.8" width="78.0" height="37.9" rx="5" fill="#4fa7df"/>
<text x="1822.00" y="407.71" font-size="38.00" fill="#111" text-anchor="start" >OFL</text>
<rect x="1723.00" y="421.14" width="85.00" height="44.86" fill="#aed4e8" />
<text x="1822.00" y="456.57" font-size="38.00" fill="#111" text-anchor="start" >NOR</text></g>
<line x1="2039.60" y1="384.60" x2="2325.00" y2="498.00" stroke="#1b2da6" stroke-width="4.80" /><line x1="2338.80" y1="582.00" x2="2521.00" y2="459.00" stroke="#1b2da6" stroke-width="4.80" /><line x1="2351.40" y1="760.70" x2="2532.30" y2="874.90" stroke="#1b2da6" stroke-width="4.80" /><line x1="2169.90" y1="940.10" x2="2040.30" y2="1064.80" stroke="#1b2da6" stroke-width="4.80" />
<g transform="translate(480,1440) scale(0.339132)" ><rect x="418.00" y="98.00" width="1686.00" height="1354.00" fill="#fff" />
<g clip-path="url(#sca)">
<path d="M418.0 1115.0 C448.3 1103.3 543.0 1069.2 600.0 1045.0 C657.0 1020.8 710.0 993.3 760.0 970.0 C810.0 946.7 860.0 925.0 900.0 905.0 C940.0 885.0 962.5 874.2 1000.0 850.0 C1037.5 825.8 1083.3 793.3 1125.0 760.0 C1166.7 726.7 1208.3 688.3 1250.0 650.0 C1291.7 611.7 1333.3 570.0 1375.0 530.0 C1416.7 490.0 1454.2 456.7 1500.0 410.0 C1545.8 363.3 1601.7 302.0 1650.0 250.0 C1698.3 198.0 1766.7 123.3 1790.0 98.0 L2104.0 98.0 L2104.0 745.0L2104.0 745.0 C2053.3 760.8 1900.7 807.5 1800.0 840.0 C1699.3 872.5 1591.7 905.0 1500.0 940.0 C1408.3 975.0 1333.3 1006.7 1250.0 1050.0 C1166.7 1093.3 1066.7 1153.3 1000.0 1200.0 C933.3 1246.7 893.3 1288.0 850.0 1330.0 C806.7 1372.0 758.3 1431.7 740.0 1452.0 L418.0 1452.0 Z" fill="#f3ecfc" stroke="none" stroke-width="0.00" />
<line x1="418.00" y1="1452.00" x2="2104.00" y2="243.00" stroke="#b4b2e2" stroke-width="2.50" />
</g>
<circle cx="617.0" cy="1276.0" r="21.0" fill="url(#sga)"/>
<circle cx="684.0" cy="1356.0" r="21.0" fill="url(#sga)"/>
<circle cx="780.0" cy="1030.0" r="21.0" fill="url(#sga)"/>
<circle cx="997.0" cy="1097.0" r="21.0" fill="url(#sga)"/>
<circle cx="1044.0" cy="832.0" r="21.0" fill="url(#sga)"/>
<circle cx="1301.0" cy="1133.0" r="21.0" fill="url(#sgd)"/>
<circle cx="1934.0" cy="254.0" r="21.0" fill="url(#sga)"/>
<rect x="418.0" y="98.0" width="1686.0" height="1354.0" fill="none" stroke="#222" stroke-width="4.5"/>
<line x1="418.00" y1="1452.00" x2="418.00" y2="1462.00" stroke="#222" stroke-width="3.50" />
<text x="418.00" y="1509.12" font-size="56.00" fill="#111" text-anchor="middle" >3000</text>
<line x1="677.00" y1="1452.00" x2="677.00" y2="1462.00" stroke="#222" stroke-width="3.50" />
<text x="677.00" y="1509.12" font-size="56.00" fill="#111" text-anchor="middle" >3500</text>
<line x1="936.00" y1="1452.00" x2="936.00" y2="1462.00" stroke="#222" stroke-width="3.50" />
<text x="936.00" y="1509.12" font-size="56.00" fill="#111" text-anchor="middle" >4000</text>
<line x1="1195.00" y1="1452.00" x2="1195.00" y2="1462.00" stroke="#222" stroke-width="3.50" />
<text x="1195.00" y="1509.12" font-size="56.00" fill="#111" text-anchor="middle" >4500</text>
<line x1="1454.00" y1="1452.00" x2="1454.00" y2="1462.00" stroke="#222" stroke-width="3.50" />
<text x="1454.00" y="1509.12" font-size="56.00" fill="#111" text-anchor="middle" >5000</text>
<line x1="1713.00" y1="1452.00" x2="1713.00" y2="1462.00" stroke="#222" stroke-width="3.50" />
<text x="1713.00" y="1509.12" font-size="56.00" fill="#111" text-anchor="middle" >5500</text>
<line x1="1972.00" y1="1452.00" x2="1972.00" y2="1462.00" stroke="#222" stroke-width="3.50" />
<text x="1972.00" y="1509.12" font-size="56.00" fill="#111" text-anchor="middle" >6000</text>
<line x1="418.00" y1="1452.00" x2="408.00" y2="1452.00" stroke="#222" stroke-width="3.50" />
<text x="404.00" y="1469.92" font-size="56.00" fill="#111" text-anchor="end" >0</text>
<line x1="418.00" y1="1243.40" x2="408.00" y2="1243.40" stroke="#222" stroke-width="3.50" />
<text x="404.00" y="1261.32" font-size="56.00" fill="#111" text-anchor="end" >200</text>
<line x1="418.00" y1="1034.80" x2="408.00" y2="1034.80" stroke="#222" stroke-width="3.50" />
<text x="404.00" y="1052.72" font-size="56.00" fill="#111" text-anchor="end" >400</text>
<line x1="418.00" y1="826.20" x2="408.00" y2="826.20" stroke="#222" stroke-width="3.50" />
<text x="404.00" y="844.12" font-size="56.00" fill="#111" text-anchor="end" >600</text>
<line x1="418.00" y1="617.60" x2="408.00" y2="617.60" stroke="#222" stroke-width="3.50" />
<text x="404.00" y="635.52" font-size="56.00" fill="#111" text-anchor="end" >800</text>
<line x1="418.00" y1="409.00" x2="408.00" y2="409.00" stroke="#222" stroke-width="3.50" />
<text x="404.00" y="426.92" font-size="56.00" fill="#111" text-anchor="end" >1000</text>
<line x1="418.00" y1="200.40" x2="408.00" y2="200.40" stroke="#222" stroke-width="3.50" />
<text x="404.00" y="218.32" font-size="56.00" fill="#111" text-anchor="end" >1200</text>
<text x="1260.00" y="1582.00" font-size="63.00" fill="#111" text-anchor="middle" >Usage of FQs (t/a)</text>
<text transform="translate(185.0,782.0) rotate(-90)" font-size="63" fill="#111" text-anchor="middle" textLength="785" lengthAdjust="spacingAndGlyphs">Mass inventory of FQs in the</text>
<text transform="translate(265.0,775.0) rotate(-90)" font-size="63" fill="#111" text-anchor="middle" textLength="830" lengthAdjust="spacingAndGlyphs">Yellow Sea and Bohai Sea (t/a)</text>
<text x="1565.00" y="1287.00" font-size="57.00" fill="#111" text-anchor="start" >y=0.3547*X-1060.86</text>
<text x="1565.0" y="1367.0" font-size="57" fill="#111"><tspan font-style="italic">r</tspan><tspan font-size="36" dy="-24">2</tspan><tspan dy="24">=0.7331, </tspan><tspan font-style="italic">P</tspan>=0.0086</text>
<text x="178.00" y="158.00" font-size="108.00" fill="#000" text-anchor="start" >a</text></g><g transform="translate(160,1960) scale(0.363121)" ><rect x="287.00" y="130.00" width="1587.00" height="1280.00" fill="#fff" />
<g clip-path="url(#scb)">
<path d="M287.0 1200.0 C314.2 1190.8 397.8 1164.2 450.0 1145.0 C502.2 1125.8 550.0 1107.5 600.0 1085.0 C650.0 1062.5 700.0 1037.5 750.0 1010.0 C800.0 982.5 850.0 955.0 900.0 920.0 C950.0 885.0 1000.0 843.3 1050.0 800.0 C1100.0 756.7 1154.2 706.7 1200.0 660.0 C1245.8 613.3 1283.3 568.3 1325.0 520.0 C1366.7 471.7 1412.5 415.0 1450.0 370.0 C1487.5 325.0 1516.7 290.0 1550.0 250.0 C1583.3 210.0 1633.3 150.0 1650.0 130.0 L1874.0 130.0 L1874.0 790.0L1874.0 790.0 C1845.0 800.0 1762.3 828.3 1700.0 850.0 C1637.7 871.7 1558.3 897.5 1500.0 920.0 C1441.7 942.5 1400.0 963.3 1350.0 985.0 C1300.0 1006.7 1250.0 1025.8 1200.0 1050.0 C1150.0 1074.2 1100.0 1100.8 1050.0 1130.0 C1000.0 1159.2 941.7 1195.0 900.0 1225.0 C858.3 1255.0 835.0 1279.2 800.0 1310.0 C765.0 1340.8 708.3 1393.3 690.0 1410.0 L287.0 1410.0 Z" fill="#e9f1fa" stroke="none" stroke-width="0.00" />
<line x1="420.00" y1="1410.00" x2="1874.00" y2="343.00" stroke="#72bcf2" stroke-width="3.00" />
</g>
<circle cx="473.0" cy="1257.0" r="21.0" fill="url(#sgb)"/>
<circle cx="537.0" cy="1209.0" r="21.0" fill="url(#sgb)"/>
<circle cx="626.0" cy="1274.0" r="21.0" fill="url(#sgb)"/>
<circle cx="831.0" cy="1120.0" r="21.0" fill="url(#sgb)"/>
<circle cx="875.0" cy="1150.0" r="21.0" fill="url(#sgb)"/>
<circle cx="1119.0" cy="1188.0" r="21.0" fill="url(#sgd)"/>
<circle cx="1716.0" cy="279.0" r="21.0" fill="url(#sgb)"/>
<rect x="287.0" y="130.0" width="1587.0" height="1280.0" fill="none" stroke="#222" stroke-width="4.5"/>
<line x1="287.00" y1="1410.00" x2="287.00" y2="1420.00" stroke="#222" stroke-width="3.50" />
<text x="287.00" y="1463.04" font-size="52.00" fill="#111" text-anchor="middle" >3000</text>
<line x1="531.20" y1="1410.00" x2="531.20" y2="1420.00" stroke="#222" stroke-width="3.50" />
<text x="531.20" y="1463.04" font-size="52.00" fill="#111" text-anchor="middle" >3500</text>
<line x1="775.40" y1="1410.00" x2="775.40" y2="1420.00" stroke="#222" stroke-width="3.50" />
<text x="775.40" y="1463.04" font-size="52.00" fill="#111" text-anchor="middle" >4000</text>
<line x1="1019.60" y1="1410.00" x2="1019.60" y2="1420.00" stroke="#222" stroke-width="3.50" />
<text x="1019.60" y="1463.04" font-size="52.00" fill="#111" text-anchor="middle" >4500</text>
<line x1="1263.80" y1="1410.00" x2="1263.80" y2="1420.00" stroke="#222" stroke-width="3.50" />
<text x="1263.80" y="1463.04" font-size="52.00" fill="#111" text-anchor="middle" >5000</text>
<line x1="1508.00" y1="1410.00" x2="1508.00" y2="1420.00" stroke="#222" stroke-width="3.50" />
<text x="1508.00" y="1463.04" font-size="52.00" fill="#111" text-anchor="middle" >5500</text>
<line x1="1752.20" y1="1410.00" x2="1752.20" y2="1420.00" stroke="#222" stroke-width="3.50" />
<text x="1752.20" y="1463.04" font-size="52.00" fill="#111" text-anchor="middle" >6000</text>
<line x1="287.00" y1="1310.00" x2="277.00" y2="1310.00" stroke="#222" stroke-width="3.50" />
<text x="273.00" y="1326.64" font-size="52.00" fill="#111" text-anchor="end" >0</text>
<line x1="287.00" y1="1113.33" x2="277.00" y2="1113.33" stroke="#222" stroke-width="3.50" />
<text x="273.00" y="1129.97" font-size="52.00" fill="#111" text-anchor="end" >100</text>
<line x1="287.00" y1="916.66" x2="277.00" y2="916.66" stroke="#222" stroke-width="3.50" />
<text x="273.00" y="933.30" font-size="52.00" fill="#111" text-anchor="end" >200</text>
<line x1="287.00" y1="719.99" x2="277.00" y2="719.99" stroke="#222" stroke-width="3.50" />
<text x="273.00" y="736.63" font-size="52.00" fill="#111" text-anchor="end" >300</text>
<line x1="287.00" y1="523.32" x2="277.00" y2="523.32" stroke="#222" stroke-width="3.50" />
<text x="273.00" y="539.96" font-size="52.00" fill="#111" text-anchor="end" >400</text>
<line x1="287.00" y1="326.65" x2="277.00" y2="326.65" stroke="#222" stroke-width="3.50" />
<text x="273.00" y="343.29" font-size="52.00" fill="#111" text-anchor="end" >500</text>
<line x1="287.00" y1="129.98" x2="277.00" y2="129.98" stroke="#222" stroke-width="3.50" />
<text x="273.00" y="146.62" font-size="52.00" fill="#111" text-anchor="end" >600</text>
<text x="1078.00" y="1537.00" font-size="63.00" fill="#111" text-anchor="middle" >Usage of NOR (t/a)</text>
<text transform="translate(95.0,775.0) rotate(-90)" font-size="63" fill="#111" text-anchor="middle" textLength="780" lengthAdjust="spacingAndGlyphs">Mass inventory of NOR in the</text>
<text transform="translate(172.0,772.0) rotate(-90)" font-size="63" fill="#111" text-anchor="middle" textLength="795" lengthAdjust="spacingAndGlyphs">Yellow Sea and Bohai Sea (t/a)</text>
<text x="1340.00" y="1274.00" font-size="55.00" fill="#111" text-anchor="start" >y=0.1821*X-645.68</text>
<text x="1335.0" y="1350.0" font-size="55" fill="#111"><tspan font-style="italic">r</tspan><tspan font-size="36" dy="-24">2</tspan><tspan dy="24">=0.7591, </tspan><tspan font-style="italic">P</tspan>&lt;0.0066</text>
<text x="50.00" y="130.00" font-size="112.00" fill="#000" text-anchor="start" >b</text></g><g transform="translate(840,1960) scale(0.363121)" ><rect x="303.00" y="143.00" width="1596.00" height="1285.00" fill="#fff" />
<g clip-path="url(#scc)">
<path d="M303.0 865.0 C327.5 859.2 400.5 842.5 450.0 830.0 C499.5 817.5 554.2 806.7 600.0 790.0 C645.8 773.3 683.3 753.3 725.0 730.0 C766.7 706.7 808.3 680.0 850.0 650.0 C891.7 620.0 933.3 586.7 975.0 550.0 C1016.7 513.3 1058.3 473.3 1100.0 430.0 C1141.7 386.7 1183.3 337.8 1225.0 290.0 C1266.7 242.2 1329.2 167.5 1350.0 143.0 L1899.0 143.0 L1899.0 765.0L1899.0 765.0 C1849.2 774.2 1699.8 797.5 1600.0 820.0 C1500.2 842.5 1391.7 870.0 1300.0 900.0 C1208.3 930.0 1116.7 968.3 1050.0 1000.0 C983.3 1031.7 941.7 1060.0 900.0 1090.0 C858.3 1120.0 833.3 1146.7 800.0 1180.0 C766.7 1213.3 735.8 1248.7 700.0 1290.0 C664.2 1331.3 604.2 1405.0 585.0 1428.0 L303.0 1428.0 Z" fill="#eafbe6" stroke="none" stroke-width="0.00" />
<line x1="303.00" y1="1318.00" x2="1840.00" y2="143.00" stroke="#a9dda2" stroke-width="3.50" />
</g>
<circle cx="492.0" cy="1121.0" r="21.0" fill="url(#sgc)"/>
<circle cx="556.0" cy="1183.0" r="21.0" fill="url(#sgc)"/>
<circle cx="645.0" cy="1296.0" r="21.0" fill="url(#sgc)"/>
<circle cx="852.0" cy="956.0" r="21.0" fill="url(#sgc)"/>
<circle cx="897.0" cy="372.0" r="21.0" fill="url(#sgd)"/>
<circle cx="1142.0" cy="815.0" r="21.0" fill="url(#sgc)"/>
<circle cx="1741.0" cy="253.0" r="21.0" fill="url(#sgc)"/>
<rect x="303.0" y="143.0" width="1596.0" height="1285.0" fill="none" stroke="#222" stroke-width="4.5"/>
<line x1="303.00" y1="1428.00" x2="303.00" y2="1438.00" stroke="#222" stroke-width="3.50" />
<text x="303.00" y="1481.04" font-size="52.00" fill="#111" text-anchor="middle" >3000</text>
<line x1="548.80" y1="1428.00" x2="548.80" y2="1438.00" stroke="#222" stroke-width="3.50" />
<text x="548.80" y="1481.04" font-size="52.00" fill="#111" text-anchor="middle" >3500</text>
<line x1="794.60" y1="1428.00" x2="794.60" y2="1438.00" stroke="#222" stroke-width="3.50" />
<text x="794.60" y="1481.04" font-size="52.00" fill="#111" text-anchor="middle" >4000</text>
<line x1="1040.40" y1="1428.00" x2="1040.40" y2="1438.00" stroke="#222" stroke-width="3.50" />
<text x="1040.40" y="1481.04" font-size="52.00" fill="#111" text-anchor="middle" >4500</text>
<line x1="1286.20" y1="1428.00" x2="1286.20" y2="1438.00" stroke="#222" stroke-width="3.50" />
<text x="1286.20" y="1481.04" font-size="52.00" fill="#111" text-anchor="middle" >5000</text>
<line x1="1532.00" y1="1428.00" x2="1532.00" y2="1438.00" stroke="#222" stroke-width="3.50" />
<text x="1532.00" y="1481.04" font-size="52.00" fill="#111" text-anchor="middle" >5500</text>
<line x1="1777.80" y1="1428.00" x2="1777.80" y2="1438.00" stroke="#222" stroke-width="3.50" />
<text x="1777.80" y="1481.04" font-size="52.00" fill="#111" text-anchor="middle" >6000</text>
<line x1="303.00" y1="1356.00" x2="293.00" y2="1356.00" stroke="#222" stroke-width="3.50" />
<text x="289.00" y="1372.64" font-size="52.00" fill="#111" text-anchor="end" >0</text>
<line x1="303.00" y1="1213.10" x2="293.00" y2="1213.10" stroke="#222" stroke-width="3.50" />
<text x="289.00" y="1229.74" font-size="52.00" fill="#111" text-anchor="end" >20</text>
<line x1="303.00" y1="1070.20" x2="293.00" y2="1070.20" stroke="#222" stroke-width="3.50" />
<text x="289.00" y="1086.84" font-size="52.00" fill="#111" text-anchor="end" >40</text>
<line x1="303.00" y1="927.30" x2="293.00" y2="927.30" stroke="#222" stroke-width="3.50" />
<text x="289.00" y="943.94" font-size="52.00" fill="#111" text-anchor="end" >60</text>
<line x1="303.00" y1="784.40" x2="293.00" y2="784.40" stroke="#222" stroke-width="3.50" />
<text x="289.00" y="801.04" font-size="52.00" fill="#111" text-anchor="end" >80</text>
<line x1="303.00" y1="641.50" x2="293.00" y2="641.50" stroke="#222" stroke-width="3.50" />
<text x="289.00" y="658.14" font-size="52.00" fill="#111" text-anchor="end" >100</text>
<line x1="303.00" y1="498.60" x2="293.00" y2="498.60" stroke="#222" stroke-width="3.50" />
<text x="289.00" y="515.24" font-size="52.00" fill="#111" text-anchor="end" >120</text>
<line x1="303.00" y1="355.70" x2="293.00" y2="355.70" stroke="#222" stroke-width="3.50" />
<text x="289.00" y="372.34" font-size="52.00" fill="#111" text-anchor="end" >140</text>
<line x1="303.00" y1="212.80" x2="293.00" y2="212.80" stroke="#222" stroke-width="3.50" />
<text x="289.00" y="229.44" font-size="52.00" fill="#111" text-anchor="end" >160</text>
<text x="1102.00" y="1559.00" font-size="63.00" fill="#111" text-anchor="middle" >Usage of CIP (t/a)</text>
<text transform="translate(108.0,792.0) rotate(-90)" font-size="63" fill="#111" text-anchor="middle" textLength="750" lengthAdjust="spacingAndGlyphs">Mass inventory of CIP in the</text>
<text transform="translate(185.0,790.0) rotate(-90)" font-size="63" fill="#111" text-anchor="middle" textLength="795" lengthAdjust="spacingAndGlyphs">Yellow Sea and Bohai Sea (t/a)</text>
<text x="1398.00" y="1290.00" font-size="55.00" fill="#111" text-anchor="start" >y=0.05243*X-151.56</text>
<text x="1398.0" y="1367.0" font-size="55" fill="#111"><tspan font-style="italic">r</tspan><tspan font-size="36" dy="-24">2</tspan><tspan dy="24">=0.5968, </tspan><tspan font-style="italic">P</tspan>&lt;0.0255</text>
<text x="106.00" y="135.00" font-size="112.00" fill="#000" text-anchor="start" >c</text></g>
<g transform="translate(1880,1560) scale(0.621195)" ><line x1="270.47" y1="902.11" x2="1114.31" y2="720.40" stroke="#333" stroke-width="1.60" stroke-dasharray="9 7"/>
<line x1="1114.31" y1="720.40" x2="1841.31" y2="952.55" stroke="#333" stroke-width="1.60" stroke-dasharray="9 7"/>
<line x1="261.64" y1="598.73" x2="1112.61" y2="439.30" stroke="#333" stroke-width="1.60" stroke-dasharray="9 7"/>
<line x1="1112.61" y1="439.30" x2="1850.62" y2="643.10" stroke="#333" stroke-width="1.60" stroke-dasharray="9 7"/>
<line x1="252.81" y1="295.34" x2="1110.92" y2="158.20" stroke="#333" stroke-width="1.60" stroke-dasharray="9 7"/>
<line x1="1110.92" y1="158.20" x2="1859.93" y2="333.65" stroke="#333" stroke-width="1.60" stroke-dasharray="9 7"/>
<line x1="248.00" y1="130.00" x2="1110.00" y2="5.00" stroke="#333" stroke-width="1.60" stroke-dasharray="9 7"/>
<line x1="1110.00" y1="5.00" x2="1865.00" y2="165.00" stroke="#333" stroke-width="1.60" stroke-dasharray="9 7"/>
<line x1="481.00" y1="1156.32" x2="481.00" y2="96.21" stroke="#888" stroke-width="1.60" />
<line x1="915.00" y1="1050.51" x2="915.00" y2="33.28" stroke="#888" stroke-width="1.60" />
<line x1="1116.00" y1="1001.50" x2="1110.00" y2="5.00" stroke="#777" stroke-width="1.80" />
<line x1="1190.00" y1="1028.42" x2="1190.00" y2="21.95" stroke="#888" stroke-width="1.60" />
<line x1="1306.00" y1="1070.63" x2="1306.00" y2="46.54" stroke="#888" stroke-width="1.60" />
<line x1="1422.00" y1="1112.83" x2="1422.00" y2="71.12" stroke="#888" stroke-width="1.60" />
<line x1="1546.00" y1="1157.95" x2="1546.00" y2="97.40" stroke="#888" stroke-width="1.60" />
<line x1="1670.00" y1="1203.06" x2="1670.00" y2="123.68" stroke="#888" stroke-width="1.60" />
<line x1="1796.00" y1="1248.90" x2="1796.00" y2="150.38" stroke="#888" stroke-width="1.60" />
<line x1="1832.00" y1="1262.00" x2="1865.00" y2="165.00" stroke="#777" stroke-width="1.80" />
<line x1="279.30" y1="1205.50" x2="1116.00" y2="1001.50" stroke="#222" stroke-width="3.00" stroke-dasharray="6 5"/>
<line x1="1116.00" y1="1001.50" x2="1832.00" y2="1262.00" stroke="#222" stroke-width="3.00" stroke-dasharray="6 5"/>
<line x1="350.93" y1="1238.94" x2="1189.75" y2="1028.33" stroke="#555" stroke-width="1.50" stroke-dasharray="6 6"/>
<line x1="460.10" y1="1289.92" x2="1302.16" y2="1069.23" stroke="#555" stroke-width="1.50" stroke-dasharray="6 6"/>
<line x1="569.28" y1="1340.90" x2="1414.57" y2="1110.13" stroke="#555" stroke-width="1.50" stroke-dasharray="6 6"/>
<line x1="684.02" y1="1394.48" x2="1532.71" y2="1153.11" stroke="#555" stroke-width="1.50" stroke-dasharray="6 6"/>
<line x1="805.02" y1="1450.97" x2="1657.30" y2="1198.44" stroke="#555" stroke-width="1.50" stroke-dasharray="6 6"/>
<line x1="930.89" y1="1509.74" x2="1786.89" y2="1245.59" stroke="#555" stroke-width="1.50" stroke-dasharray="6 6"/>
<line x1="505.21" y1="1150.42" x2="1206.17" y2="1457.79" stroke="#555" stroke-width="1.50" stroke-dasharray="6 6"/>
<line x1="927.74" y1="1047.40" x2="1639.11" y2="1322.35" stroke="#555" stroke-width="1.50" stroke-dasharray="6 6"/>
<line x1="248.00" y1="130.00" x2="279.30" y2="1205.50" stroke="#111" stroke-width="3.00" />
<line x1="279.30" y1="1205.50" x2="974.70" y2="1530.20" stroke="#111" stroke-width="3.40" />
<line x1="974.70" y1="1530.20" x2="1832.00" y2="1262.00" stroke="#111" stroke-width="3.40" />
<line x1="263.30" y1="1208.50" x2="279.30" y2="1205.50" stroke="#111" stroke-width="3.00" />
<text transform="translate(244.3,1238.5) rotate(-9)" font-size="60" fill="#111" text-anchor="end" textLength="22" lengthAdjust="spacingAndGlyphs">0</text>
<line x1="254.47" y1="905.11" x2="270.47" y2="902.11" stroke="#111" stroke-width="3.00" />
<text transform="translate(235.5,935.1) rotate(-9)" font-size="60" fill="#111" text-anchor="end" textLength="75" lengthAdjust="spacingAndGlyphs">200</text>
<line x1="245.64" y1="601.73" x2="261.64" y2="598.73" stroke="#111" stroke-width="3.00" />
<text transform="translate(226.6,631.7) rotate(-9)" font-size="60" fill="#111" text-anchor="end" textLength="75" lengthAdjust="spacingAndGlyphs">400</text>
<line x1="236.81" y1="298.34" x2="252.81" y2="295.34" stroke="#111" stroke-width="3.00" />
<text transform="translate(217.8,328.3) rotate(-9)" font-size="60" fill="#111" text-anchor="end" textLength="75" lengthAdjust="spacingAndGlyphs">600</text>
<line x1="265.89" y1="1055.81" x2="274.89" y2="1053.81" stroke="#111" stroke-width="2.50" />
<line x1="257.06" y1="752.42" x2="266.06" y2="750.42" stroke="#111" stroke-width="2.50" />
<line x1="248.23" y1="449.04" x2="257.23" y2="447.04" stroke="#111" stroke-width="2.50" />
<line x1="239.40" y1="145.65" x2="248.40" y2="143.65" stroke="#111" stroke-width="2.50" />
<line x1="350.93" y1="1238.94" x2="336.93" y2="1244.94" stroke="#111" stroke-width="3.00" />
<text transform="matrix(0.981,-0.193,0.56,0.26,339.9,1260.9)" font-size="50" fill="#111" text-anchor="end" letter-spacing="2.5">2010</text>
<line x1="460.10" y1="1289.92" x2="446.10" y2="1295.92" stroke="#111" stroke-width="3.00" />
<text transform="matrix(0.981,-0.193,0.56,0.26,449.1,1311.9)" font-size="50" fill="#111" text-anchor="end" letter-spacing="2.5">2012</text>
<line x1="569.28" y1="1340.90" x2="555.28" y2="1346.90" stroke="#111" stroke-width="3.00" />
<text transform="matrix(0.981,-0.193,0.56,0.26,558.3,1362.9)" font-size="50" fill="#111" text-anchor="end" letter-spacing="2.5">2014</text>
<line x1="684.02" y1="1394.48" x2="670.02" y2="1400.48" stroke="#111" stroke-width="3.00" />
<text transform="matrix(0.981,-0.193,0.56,0.26,673.0,1416.5)" font-size="50" fill="#111" text-anchor="end" letter-spacing="2.5">2016</text>
<line x1="805.02" y1="1450.97" x2="791.02" y2="1456.97" stroke="#111" stroke-width="3.00" />
<text transform="matrix(0.981,-0.193,0.56,0.26,794.0,1473.0)" font-size="50" fill="#111" text-anchor="end" letter-spacing="2.5">2018</text>
<line x1="930.89" y1="1509.74" x2="916.89" y2="1515.74" stroke="#111" stroke-width="3.00" />
<text transform="matrix(0.981,-0.193,0.56,0.26,919.9,1531.7)" font-size="50" fill="#111" text-anchor="end" letter-spacing="2.5">2020</text>
<line x1="405.52" y1="1264.43" x2="397.52" y2="1268.43" stroke="#111" stroke-width="2.50" />
<line x1="514.69" y1="1315.41" x2="506.69" y2="1319.41" stroke="#111" stroke-width="2.50" />
<line x1="626.65" y1="1367.69" x2="618.65" y2="1371.69" stroke="#111" stroke-width="2.50" />
<line x1="744.52" y1="1422.72" x2="736.52" y2="1426.72" stroke="#111" stroke-width="2.50" />
<line x1="867.96" y1="1480.36" x2="859.96" y2="1484.36" stroke="#111" stroke-width="2.50" />
<text transform="matrix(0.907,0.421,-0.80,0.215,376,1407)" font-size="49" fill="#111">Year</text>
<line x1="1206.17" y1="1457.79" x2="1212.17" y2="1471.79" stroke="#111" stroke-width="3.00" />
<g transform="translate(1222,1480)"><g transform="translate(0,0) rotate(20)" stroke="#222" stroke-width="3.2" fill="none"><path d="M0 4 L26 4 M13 -8 L13 22 M2 14 L24 14 M4 22 L22 22 M-4 -4 L-8 6 M-6 12 L-10 24"/></g><g transform="translate(38,14) rotate(20)" stroke="#222" stroke-width="3.2" fill="none"><path d="M0 4 L26 4 M13 -8 L13 22 M2 14 L24 14 M4 22 L22 22 M-4 -4 L-8 6 M-6 12 L-10 24"/></g></g>
<line x1="1639.11" y1="1322.35" x2="1645.11" y2="1336.35" stroke="#111" stroke-width="3.00" />
<g transform="translate(1652,1345)"><g transform="translate(0,0) rotate(20)" stroke="#222" stroke-width="3.2" fill="none"><path d="M0 4 L26 4 M13 -8 L13 22 M2 14 L24 14 M4 22 L22 22 M-4 -4 L-8 6 M-6 12 L-10 24"/></g><g transform="translate(38,14) rotate(20)" stroke="#222" stroke-width="3.2" fill="none"><path d="M0 4 L26 4 M13 -8 L13 22 M2 14 L24 14 M4 22 L22 22 M-4 -4 L-8 6 M-6 12 L-10 24"/></g></g>
<text transform="translate(159.7,1374.2) rotate(-91.41)" font-size="61.5" fill="#111" textLength="1331" lengthAdjust="spacingAndGlyphs">The inventory of antibiotics in seawater(t/a)</text>
<path d="M962.5 628.5 L962.5 1079.4 A33.5 7.0 0 0 0 1029.6 1079.4 L1029.6 628.5 Z" fill="#d2640f" stroke="none" stroke-width="0.00" /><path d="M962.5 628.5 L962.5 1079.4 A33.5 7.0 0 0 0 1000.1 1086.4 L1000.1 628.5 Z" fill="#ff6c1c" stroke="none" stroke-width="0.00" /><line x1="970.55" y1="632.50" x2="970.55" y2="1083.63" stroke="#ffa43c" stroke-width="3.02" /><line x1="980.62" y1="632.50" x2="980.62" y2="1083.63" stroke="#ffa43c" stroke-width="3.02" /><line x1="989.34" y1="632.50" x2="989.34" y2="1083.63" stroke="#ffa43c" stroke-width="3.02" /><line x1="1014.84" y1="632.50" x2="1014.84" y2="1084.33" stroke="#f07a20" stroke-width="2.68" /><path d="M962.5 617.7 L962.5 628.5 A33.5 7.0 0 0 0 1029.6 628.5 L1029.6 617.7 Z" fill="#6a28a2" stroke="none" stroke-width="0.00" /><path d="M962.5 617.7 L962.5 628.5 A33.5 7.0 0 0 0 1000.1 635.5 L1000.1 617.7 Z" fill="#8a2be2" stroke="none" stroke-width="0.00" /><path d="M962.5 505.9 L962.5 617.7 A33.5 7.0 0 0 0 1029.6 617.7 L1029.6 505.9 Z" fill="#d2ce22" stroke="none" stroke-width="0.00" /><path d="M962.5 505.9 L962.5 617.7 A33.5 7.0 0 0 0 1000.1 624.7 L1000.1 505.9 Z" fill="#ffff20" stroke="none" stroke-width="0.00" /><line x1="1024.90" y1="509.90" x2="1024.90" y2="621.22" stroke="#b4a42c" stroke-width="4.70" /><path d="M962.5 459.0 L962.5 505.9 A33.5 7.0 0 0 0 1029.6 505.9 L1029.6 459.0 Z" fill="#4c5040" stroke="none" stroke-width="0.00" /><path d="M962.5 459.0 L962.5 505.9 A33.5 7.0 0 0 0 1000.1 512.9 L1000.1 459.0 Z" fill="#787c62" stroke="none" stroke-width="0.00" /><path d="M962.5 433.8 L962.5 459.0 A33.5 7.0 0 0 0 1029.6 459.0 L1029.6 433.8 Z" fill="#3aa0a8" stroke="none" stroke-width="0.00" /><path d="M962.5 433.8 L962.5 459.0 A33.5 7.0 0 0 0 1000.1 466.0 L1000.1 433.8 Z" fill="#20c4cc" stroke="none" stroke-width="0.00" /><path d="M962.5 385.0 L962.5 433.8 A33.5 7.0 0 0 0 1029.6 433.8 L1029.6 385.0 Z" fill="#2a9838" stroke="none" stroke-width="0.00" /><path d="M962.5 385.0 L962.5 433.8 A33.5 7.0 0 0 0 1000.1 440.8 L1000.1 385.0 Z" fill="#48f050" stroke="none" stroke-width="0.00" /><ellipse cx="996.0" cy="385.0" rx="33.5" ry="7.0" fill="#2a9a34" stroke="#8a8a60" stroke-width="0.80" /><line x1="962.50" y1="385.00" x2="962.50" y2="1079.40" stroke="#9a8a50" stroke-width="0.90" /><line x1="1029.60" y1="385.00" x2="1029.60" y2="1079.40" stroke="#9a8a50" stroke-width="0.90" /><path d="M1075.0 1115.4 L1075.0 1129.9 A34.2 7.2 0 0 0 1143.5 1129.9 L1143.5 1115.4 Z" fill="#d2640f" stroke="none" stroke-width="0.00" /><path d="M1075.0 1115.4 L1075.0 1129.9 A34.2 7.2 0 0 0 1113.4 1137.0 L1113.4 1115.4 Z" fill="#ff6c1c" stroke="none" stroke-width="0.00" /><path d="M1075.0 619.0 L1075.0 1115.4 A34.2 7.2 0 0 0 1143.5 1115.4 L1143.5 619.0 Z" fill="#35a4ac" stroke="none" stroke-width="0.00" /><path d="M1075.0 619.0 L1075.0 1115.4 A34.2 7.2 0 0 0 1113.4 1122.5 L1113.4 619.0 Z" fill="#00ffff" stroke="none" stroke-width="0.00" /><line x1="1117.47" y1="623.00" x2="1117.47" y2="1121.15" stroke="#40e4d0" stroke-width="4.80" /><ellipse cx="1109.2" cy="619.0" rx="34.2" ry="7.2" fill="#22c8d0" stroke="#8a8a60" stroke-width="0.80" /><line x1="1075.00" y1="619.00" x2="1075.00" y2="1129.90" stroke="#9a8a50" stroke-width="0.90" /><line x1="1143.50" y1="619.00" x2="1143.50" y2="1129.90" stroke="#9a8a50" stroke-width="0.90" /><path d="M485.1 862.7 L490.0 1170.0 A35.0 7.3 0 0 0 560.0 1170.0 L555.1 862.7 Z" fill="#d2640f" stroke="none" stroke-width="0.00" /><path d="M485.1 862.7 L490.0 1170.0 A35.0 7.3 0 0 0 529.2 1177.3 L524.3 862.7 Z" fill="#ff6c1c" stroke="none" stroke-width="0.00" /><line x1="493.48" y1="866.70" x2="498.40" y2="1174.41" stroke="#ffa43c" stroke-width="3.15" /><line x1="503.98" y1="866.70" x2="508.90" y2="1174.41" stroke="#ffa43c" stroke-width="3.15" /><line x1="513.08" y1="866.70" x2="518.00" y2="1174.41" stroke="#ffa43c" stroke-width="3.15" /><line x1="539.68" y1="866.70" x2="544.60" y2="1175.14" stroke="#f07a20" stroke-width="2.80" /><path d="M481.7 652.3 L485.1 862.7 A35.0 7.3 0 0 0 555.1 862.7 L551.7 652.3 Z" fill="#35a4ac" stroke="none" stroke-width="0.00" /><path d="M481.7 652.3 L485.1 862.7 A35.0 7.3 0 0 0 524.3 870.0 L520.9 652.3 Z" fill="#00ffff" stroke="none" stroke-width="0.00" /><line x1="525.12" y1="656.30" x2="528.48" y2="868.58" stroke="#40e4d0" stroke-width="4.90" /><path d="M478.1 428.7 L481.7 652.3 A35.0 7.3 0 0 0 551.7 652.3 L548.1 428.7 Z" fill="#6a28a2" stroke="none" stroke-width="0.00" /><path d="M478.1 428.7 L481.7 652.3 A35.0 7.3 0 0 0 520.9 659.6 L517.3 428.7 Z" fill="#8a2be2" stroke="none" stroke-width="0.00" /><path d="M477.8 407.8 L478.1 428.7 A35.0 7.3 0 0 0 548.1 428.7 L547.8 407.8 Z" fill="#d2ce22" stroke="none" stroke-width="0.00" /><path d="M477.8 407.8 L478.1 428.7 A35.0 7.3 0 0 0 517.3 436.0 L517.0 407.8 Z" fill="#ffff20" stroke="none" stroke-width="0.00" /><path d="M473.7 151.0 L477.8 407.8 A35.0 7.3 0 0 0 547.8 407.8 L543.7 151.0 Z" fill="#1a2aa0" stroke="none" stroke-width="0.00" /><path d="M473.7 151.0 L477.8 407.8 A35.0 7.3 0 0 0 517.0 415.1 L512.9 151.0 Z" fill="#0000f0" stroke="none" stroke-width="0.00" /><ellipse cx="508.7" cy="151.0" rx="35.0" ry="7.3" fill="#0a14c8" stroke="#8a8a60" stroke-width="0.80" /><line x1="473.70" y1="151.00" x2="490.00" y2="1170.00" stroke="#9a8a50" stroke-width="0.90" /><line x1="543.70" y1="151.00" x2="560.00" y2="1170.00" stroke="#9a8a50" stroke-width="0.90" /><path d="M1249.6 1032.5 L1249.6 1198.4 A30.7 6.4 0 0 0 1310.9 1198.4 L1310.9 1032.5 Z" fill="#35a4ac" stroke="none" stroke-width="0.00" /><path d="M1249.6 1032.5 L1249.6 1198.4 A30.7 6.4 0 0 0 1283.9 1204.8 L1283.9 1032.5 Z" fill="#00ffff" stroke="none" stroke-width="0.00" /><line x1="1287.61" y1="1036.50" x2="1287.61" y2="1203.55" stroke="#40e4d0" stroke-width="4.29" /><path d="M1249.6 989.2 L1249.6 1032.5 A30.7 6.4 0 0 0 1310.9 1032.5 L1310.9 989.2 Z" fill="#d2ce22" stroke="none" stroke-width="0.00" /><path d="M1249.6 989.2 L1249.6 1032.5 A30.7 6.4 0 0 0 1283.9 1038.9 L1283.9 989.2 Z" fill="#ffff20" stroke="none" stroke-width="0.00" /><line x1="1306.61" y1="993.20" x2="1306.61" y2="1035.72" stroke="#b4a42c" stroke-width="4.29" /><path d="M1249.6 958.0 L1249.6 989.2 A30.7 6.4 0 0 0 1310.9 989.2 L1310.9 958.0 Z" fill="#1a2aa0" stroke="none" stroke-width="0.00" /><path d="M1249.6 958.0 L1249.6 989.2 A30.7 6.4 0 0 0 1283.9 995.6 L1283.9 958.0 Z" fill="#0000f0" stroke="none" stroke-width="0.00" /><ellipse cx="1280.2" cy="958.0" rx="30.7" ry="6.4" fill="#0a14c8" stroke="#8a8a60" stroke-width="0.80" /><line x1="1249.60" y1="958.00" x2="1249.60" y2="1198.40" stroke="#9a8a50" stroke-width="0.90" /><line x1="1310.90" y1="958.00" x2="1310.90" y2="1198.40" stroke="#9a8a50" stroke-width="0.90" /><path d="M1307.3 1173.1 L1307.3 1220.0 A36.1 7.6 0 0 0 1379.4 1220.0 L1379.4 1173.1 Z" fill="#d2640f" stroke="none" stroke-width="0.00" /><path d="M1307.3 1173.1 L1307.3 1220.0 A36.1 7.6 0 0 0 1347.7 1227.5 L1347.7 1173.1 Z" fill="#ff6c1c" stroke="none" stroke-width="0.00" /><line x1="1315.95" y1="1177.10" x2="1315.95" y2="1224.54" stroke="#ffa43c" stroke-width="3.24" /><line x1="1326.77" y1="1177.10" x2="1326.77" y2="1224.54" stroke="#ffa43c" stroke-width="3.24" /><line x1="1336.14" y1="1177.10" x2="1336.14" y2="1224.54" stroke="#ffa43c" stroke-width="3.24" /><line x1="1363.54" y1="1177.10" x2="1363.54" y2="1225.30" stroke="#f07a20" stroke-width="2.88" /><path d="M1307.3 1115.4 L1307.3 1173.1 A36.1 7.6 0 0 0 1379.4 1173.1 L1379.4 1115.4 Z" fill="#35a4ac" stroke="none" stroke-width="0.00" /><path d="M1307.3 1115.4 L1307.3 1173.1 A36.1 7.6 0 0 0 1347.7 1180.6 L1347.7 1115.4 Z" fill="#00ffff" stroke="none" stroke-width="0.00" /><line x1="1352.00" y1="1119.40" x2="1352.00" y2="1179.16" stroke="#40e4d0" stroke-width="5.05" /><path d="M1307.3 1064.9 L1307.3 1115.4 A36.1 7.6 0 0 0 1379.4 1115.4 L1379.4 1064.9 Z" fill="#6a28a2" stroke="none" stroke-width="0.00" /><path d="M1307.3 1064.9 L1307.3 1115.4 A36.1 7.6 0 0 0 1347.7 1122.9 L1347.7 1064.9 Z" fill="#8a2be2" stroke="none" stroke-width="0.00" /><path d="M1307.3 969.0 L1307.3 1064.9 A36.1 7.6 0 0 0 1379.4 1064.9 L1379.4 969.0 Z" fill="#d2ce22" stroke="none" stroke-width="0.00" /><path d="M1307.3 969.0 L1307.3 1064.9 A36.1 7.6 0 0 0 1347.7 1072.4 L1347.7 969.0 Z" fill="#ffff20" stroke="none" stroke-width="0.00" /><line x1="1374.35" y1="973.00" x2="1374.35" y2="1068.69" stroke="#b4a42c" stroke-width="5.05" /><ellipse cx="1343.3" cy="969.0" rx="36.1" ry="7.6" fill="#d8d420" stroke="#8a8a60" stroke-width="0.80" /><line x1="1307.30" y1="969.00" x2="1307.30" y2="1220.00" stroke="#9a8a50" stroke-width="0.90" /><line x1="1379.40" y1="969.00" x2="1379.40" y2="1220.00" stroke="#9a8a50" stroke-width="0.90" /><path d="M1367.1 1236.0 L1367.1 1244.0 A33.2 7.0 0 0 0 1433.5 1244.0 L1433.5 1236.0 Z" fill="#d2ce22" stroke="none" stroke-width="0.00" /><path d="M1367.1 1236.0 L1367.1 1244.0 A33.2 7.0 0 0 0 1404.3 1250.9 L1404.3 1236.0 Z" fill="#ffff20" stroke="none" stroke-width="0.00" /><path d="M1367.1 1224.0 L1367.1 1236.0 A33.2 7.0 0 0 0 1433.5 1236.0 L1433.5 1224.0 Z" fill="#3aa0a8" stroke="none" stroke-width="0.00" /><path d="M1367.1 1224.0 L1367.1 1236.0 A33.2 7.0 0 0 0 1404.3 1242.9 L1404.3 1224.0 Z" fill="#20c4cc" stroke="none" stroke-width="0.00" /><ellipse cx="1400.3" cy="1224.0" rx="33.2" ry="7.0" fill="#20b8c0" stroke="#8a8a60" stroke-width="0.80" /><line x1="1367.10" y1="1224.00" x2="1367.10" y2="1244.00" stroke="#9a8a50" stroke-width="0.90" /><line x1="1433.50" y1="1224.00" x2="1433.50" y2="1244.00" stroke="#9a8a50" stroke-width="0.90" /><path d="M1432.1 1216.4 L1432.1 1266.9 A33.2 7.0 0 0 0 1498.4 1266.9 L1498.4 1216.4 Z" fill="#d2640f" stroke="none" stroke-width="0.00" /><path d="M1432.1 1216.4 L1432.1 1266.9 A33.2 7.0 0 0 0 1469.2 1273.8 L1469.2 1216.4 Z" fill="#ff6c1c" stroke="none" stroke-width="0.00" /><line x1="1440.06" y1="1220.40" x2="1440.06" y2="1271.08" stroke="#ffa43c" stroke-width="2.98" /><line x1="1450.00" y1="1220.40" x2="1450.00" y2="1271.08" stroke="#ffa43c" stroke-width="2.98" /><line x1="1458.62" y1="1220.40" x2="1458.62" y2="1271.08" stroke="#ffa43c" stroke-width="2.98" /><line x1="1483.81" y1="1220.40" x2="1483.81" y2="1271.77" stroke="#f07a20" stroke-width="2.65" /><path d="M1432.1 1176.7 L1432.1 1216.4 A33.2 7.0 0 0 0 1498.4 1216.4 L1498.4 1176.7 Z" fill="#35a4ac" stroke="none" stroke-width="0.00" /><path d="M1432.1 1176.7 L1432.1 1216.4 A33.2 7.0 0 0 0 1469.2 1223.3 L1469.2 1176.7 Z" fill="#00ffff" stroke="none" stroke-width="0.00" /><line x1="1473.21" y1="1180.70" x2="1473.21" y2="1221.97" stroke="#40e4d0" stroke-width="4.64" /><path d="M1432.1 1108.2 L1432.1 1176.7 A33.2 7.0 0 0 0 1498.4 1176.7 L1498.4 1108.2 Z" fill="#6a28a2" stroke="none" stroke-width="0.00" /><path d="M1432.1 1108.2 L1432.1 1176.7 A33.2 7.0 0 0 0 1469.2 1183.6 L1469.2 1108.2 Z" fill="#8a2be2" stroke="none" stroke-width="0.00" /><path d="M1432.1 879.0 L1432.1 1108.2 A33.2 7.0 0 0 0 1498.4 1108.2 L1498.4 879.0 Z" fill="#d2ce22" stroke="none" stroke-width="0.00" /><path d="M1432.1 879.0 L1432.1 1108.2 A33.2 7.0 0 0 0 1469.2 1115.1 L1469.2 879.0 Z" fill="#ffff20" stroke="none" stroke-width="0.00" /><line x1="1493.76" y1="883.00" x2="1493.76" y2="1111.68" stroke="#b4a42c" stroke-width="4.64" /><ellipse cx="1465.2" cy="879.0" rx="33.2" ry="7.0" fill="#c82030" stroke="#8a8a60" stroke-width="0.80" /><line x1="1432.10" y1="879.00" x2="1432.10" y2="1266.90" stroke="#9a8a50" stroke-width="0.90" /><line x1="1498.40" y1="879.00" x2="1498.40" y2="1266.90" stroke="#9a8a50" stroke-width="0.90" /><path d="M1494.8 1198.4 L1494.8 1295.8 A41.5 8.7 0 0 0 1577.8 1295.8 L1577.8 1198.4 Z" fill="#d2640f" stroke="none" stroke-width="0.00" /><path d="M1494.8 1198.4 L1494.8 1295.8 A41.5 8.7 0 0 0 1541.3 1304.5 L1541.3 1198.4 Z" fill="#ff6c1c" stroke="none" stroke-width="0.00" /><line x1="1504.76" y1="1202.40" x2="1504.76" y2="1301.03" stroke="#ffa43c" stroke-width="3.73" /><line x1="1517.21" y1="1202.40" x2="1517.21" y2="1301.03" stroke="#ffa43c" stroke-width="3.73" /><line x1="1528.00" y1="1202.40" x2="1528.00" y2="1301.03" stroke="#ffa43c" stroke-width="3.73" /><line x1="1559.54" y1="1202.40" x2="1559.54" y2="1301.90" stroke="#f07a20" stroke-width="3.32" /><path d="M1494.8 1007.2 L1494.8 1198.4 A41.5 8.7 0 0 0 1577.8 1198.4 L1577.8 1007.2 Z" fill="#35a4ac" stroke="none" stroke-width="0.00" /><path d="M1494.8 1007.2 L1494.8 1198.4 A41.5 8.7 0 0 0 1541.3 1207.1 L1541.3 1007.2 Z" fill="#00ffff" stroke="none" stroke-width="0.00" /><line x1="1546.26" y1="1011.20" x2="1546.26" y2="1205.37" stroke="#40e4d0" stroke-width="5.81" /><path d="M1494.8 971.2 L1494.8 1007.2 A41.5 8.7 0 0 0 1577.8 1007.2 L1577.8 971.2 Z" fill="#6a28a2" stroke="none" stroke-width="0.00" /><path d="M1494.8 971.2 L1494.8 1007.2 A41.5 8.7 0 0 0 1541.3 1015.9 L1541.3 971.2 Z" fill="#8a2be2" stroke="none" stroke-width="0.00" /><path d="M1494.8 829.0 L1494.8 971.2 A41.5 8.7 0 0 0 1577.8 971.2 L1577.8 829.0 Z" fill="#d2ce22" stroke="none" stroke-width="0.00" /><path d="M1494.8 829.0 L1494.8 971.2 A41.5 8.7 0 0 0 1541.3 979.9 L1541.3 829.0 Z" fill="#ffff20" stroke="none" stroke-width="0.00" /><line x1="1571.99" y1="833.00" x2="1571.99" y2="975.56" stroke="#b4a42c" stroke-width="5.81" /><ellipse cx="1536.3" cy="829.0" rx="41.5" ry="8.7" fill="#606050" stroke="#8a8a60" stroke-width="0.80" /><line x1="1494.80" y1="829.00" x2="1494.80" y2="1295.80" stroke="#9a8a50" stroke-width="0.90" /><line x1="1577.80" y1="829.00" x2="1577.80" y2="1295.80" stroke="#9a8a50" stroke-width="0.90" /><path d="M762.7 1209.2 L762.7 1292.1 A28.8 6.1 0 0 0 820.4 1292.1 L820.4 1209.2 Z" fill="#d2640f" stroke="none" stroke-width="0.00" /><path d="M762.7 1209.2 L762.7 1292.1 A28.8 6.1 0 0 0 795.0 1298.1 L795.0 1209.2 Z" fill="#ff6c1c" stroke="none" stroke-width="0.00" /><line x1="769.62" y1="1213.20" x2="769.62" y2="1295.74" stroke="#ffa43c" stroke-width="2.60" /><line x1="778.28" y1="1213.20" x2="778.28" y2="1295.74" stroke="#ffa43c" stroke-width="2.60" /><line x1="785.78" y1="1213.20" x2="785.78" y2="1295.74" stroke="#ffa43c" stroke-width="2.60" /><line x1="807.71" y1="1213.20" x2="807.71" y2="1296.34" stroke="#f07a20" stroke-width="2.31" /><path d="M762.7 1202.0 L762.7 1209.2 A28.8 6.1 0 0 0 820.4 1209.2 L820.4 1202.0 Z" fill="#35a4ac" stroke="none" stroke-width="0.00" /><path d="M762.7 1202.0 L762.7 1209.2 A28.8 6.1 0 0 0 795.0 1215.2 L795.0 1202.0 Z" fill="#00ffff" stroke="none" stroke-width="0.00" /><path d="M762.7 1165.9 L762.7 1202.0 A28.8 6.1 0 0 0 820.4 1202.0 L820.4 1165.9 Z" fill="#6a28a2" stroke="none" stroke-width="0.00" /><path d="M762.7 1165.9 L762.7 1202.0 A28.8 6.1 0 0 0 795.0 1208.0 L795.0 1165.9 Z" fill="#8a2be2" stroke="none" stroke-width="0.00" /><path d="M762.7 1134.0 L762.7 1165.9 A28.8 6.1 0 0 0 820.4 1165.9 L820.4 1134.0 Z" fill="#d2ce22" stroke="none" stroke-width="0.00" /><path d="M762.7 1134.0 L762.7 1165.9 A28.8 6.1 0 0 0 795.0 1171.9 L795.0 1134.0 Z" fill="#ffff20" stroke="none" stroke-width="0.00" /><line x1="816.36" y1="1138.00" x2="816.36" y2="1168.93" stroke="#b4a42c" stroke-width="4.04" /><ellipse cx="791.5" cy="1134.0" rx="28.8" ry="6.1" fill="#d8d420" stroke="#8a8a60" stroke-width="0.80" /><line x1="762.70" y1="1134.00" x2="762.70" y2="1292.10" stroke="#9a8a50" stroke-width="0.90" /><line x1="820.40" y1="1134.00" x2="820.40" y2="1292.10" stroke="#9a8a50" stroke-width="0.90" /><path d="M820.4 1288.5 L820.4 1317.4 A37.2 7.8 0 0 0 894.7 1317.4 L894.7 1288.5 Z" fill="#d2640f" stroke="none" stroke-width="0.00" /><path d="M820.4 1288.5 L820.4 1317.4 A37.2 7.8 0 0 0 862.0 1325.1 L862.0 1288.5 Z" fill="#ff6c1c" stroke="none" stroke-width="0.00" /><line x1="829.32" y1="1292.50" x2="829.32" y2="1322.08" stroke="#ffa43c" stroke-width="3.34" /><line x1="840.46" y1="1292.50" x2="840.46" y2="1322.08" stroke="#ffa43c" stroke-width="3.34" /><line x1="850.12" y1="1292.50" x2="850.12" y2="1322.08" stroke="#ffa43c" stroke-width="3.34" /><line x1="878.35" y1="1292.50" x2="878.35" y2="1322.86" stroke="#f07a20" stroke-width="2.97" /><path d="M820.4 1230.8 L820.4 1288.5 A37.2 7.8 0 0 0 894.7 1288.5 L894.7 1230.8 Z" fill="#35a4ac" stroke="none" stroke-width="0.00" /><path d="M820.4 1230.8 L820.4 1288.5 A37.2 7.8 0 0 0 862.0 1296.2 L862.0 1230.8 Z" fill="#00ffff" stroke="none" stroke-width="0.00" /><line x1="866.47" y1="1234.80" x2="866.47" y2="1294.74" stroke="#40e4d0" stroke-width="5.20" /><path d="M820.4 1220.0 L820.4 1230.8 A37.2 7.8 0 0 0 894.7 1230.8 L894.7 1220.0 Z" fill="#6a28a2" stroke="none" stroke-width="0.00" /><path d="M820.4 1220.0 L820.4 1230.8 A37.2 7.8 0 0 0 862.0 1238.5 L862.0 1220.0 Z" fill="#8a2be2" stroke="none" stroke-width="0.00" /><path d="M820.4 911.0 L820.4 1220.0 A37.2 7.8 0 0 0 894.7 1220.0 L894.7 911.0 Z" fill="#d2ce22" stroke="none" stroke-width="0.00" /><path d="M820.4 911.0 L820.4 1220.0 A37.2 7.8 0 0 0 862.0 1227.7 L862.0 911.0 Z" fill="#ffff20" stroke="none" stroke-width="0.00" /><line x1="889.50" y1="915.00" x2="889.50" y2="1223.90" stroke="#b4a42c" stroke-width="5.20" /><ellipse cx="857.5" cy="911.0" rx="37.2" ry="7.8" fill="#d8d420" stroke="#8a8a60" stroke-width="0.80" /><line x1="820.40" y1="911.00" x2="820.40" y2="1317.40" stroke="#9a8a50" stroke-width="0.90" /><line x1="894.70" y1="911.00" x2="894.70" y2="1317.40" stroke="#9a8a50" stroke-width="0.90" /><path d="M881.7 1321.0 L881.7 1339.0 A37.1 7.8 0 0 0 956.0 1339.0 L956.0 1321.0 Z" fill="#35a4ac" stroke="none" stroke-width="0.00" /><path d="M881.7 1321.0 L881.7 1339.0 A37.1 7.8 0 0 0 923.3 1346.7 L923.3 1321.0 Z" fill="#00ffff" stroke="none" stroke-width="0.00" /><ellipse cx="918.9" cy="1321.0" rx="37.1" ry="7.8" fill="#176428" stroke="#8a8a60" stroke-width="0.80" /><line x1="881.70" y1="1321.00" x2="881.70" y2="1339.00" stroke="#9a8a50" stroke-width="0.90" /><line x1="956.00" y1="1321.00" x2="956.00" y2="1339.00" stroke="#9a8a50" stroke-width="0.90" /><path d="M1002.1 1310.2 L1002.1 1393.1 A38.9 8.2 0 0 0 1080.0 1393.1 L1080.0 1310.2 Z" fill="#d2640f" stroke="none" stroke-width="0.00" /><path d="M1002.1 1310.2 L1002.1 1393.1 A38.9 8.2 0 0 0 1045.7 1401.2 L1045.7 1310.2 Z" fill="#ff6c1c" stroke="none" stroke-width="0.00" /><line x1="1011.45" y1="1314.20" x2="1011.45" y2="1398.01" stroke="#ffa43c" stroke-width="3.51" /><line x1="1023.13" y1="1314.20" x2="1023.13" y2="1398.01" stroke="#ffa43c" stroke-width="3.51" /><line x1="1033.26" y1="1314.20" x2="1033.26" y2="1398.01" stroke="#ffa43c" stroke-width="3.51" /><line x1="1062.86" y1="1314.20" x2="1062.86" y2="1398.83" stroke="#f07a20" stroke-width="3.12" /><path d="M1002.1 1263.3 L1002.1 1310.2 A38.9 8.2 0 0 0 1080.0 1310.2 L1080.0 1263.3 Z" fill="#35a4ac" stroke="none" stroke-width="0.00" /><path d="M1002.1 1263.3 L1002.1 1310.2 A38.9 8.2 0 0 0 1045.7 1318.3 L1045.7 1263.3 Z" fill="#00ffff" stroke="none" stroke-width="0.00" /><line x1="1050.40" y1="1267.30" x2="1050.40" y2="1316.74" stroke="#40e4d0" stroke-width="5.45" /><path d="M1002.1 1122.6 L1002.1 1263.3 A38.9 8.2 0 0 0 1080.0 1263.3 L1080.0 1122.6 Z" fill="#6a28a2" stroke="none" stroke-width="0.00" /><path d="M1002.1 1122.6 L1002.1 1263.3 A38.9 8.2 0 0 0 1045.7 1271.4 L1045.7 1122.6 Z" fill="#8a2be2" stroke="none" stroke-width="0.00" /><path d="M1002.1 909.8 L1002.1 1122.6 A38.9 8.2 0 0 0 1080.0 1122.6 L1080.0 909.8 Z" fill="#d2ce22" stroke="none" stroke-width="0.00" /><path d="M1002.1 909.8 L1002.1 1122.6 A38.9 8.2 0 0 0 1045.7 1130.7 L1045.7 909.8 Z" fill="#ffff20" stroke="none" stroke-width="0.00" /><line x1="1074.55" y1="913.80" x2="1074.55" y2="1126.69" stroke="#b4a42c" stroke-width="5.45" /><path d="M1002.1 863.0 L1002.1 909.8 A38.9 8.2 0 0 0 1080.0 909.8 L1080.0 863.0 Z" fill="#3aa0a8" stroke="none" stroke-width="0.00" /><path d="M1002.1 863.0 L1002.1 909.8 A38.9 8.2 0 0 0 1045.7 917.9 L1045.7 863.0 Z" fill="#20c4cc" stroke="none" stroke-width="0.00" /><path d="M1002.1 832.0 L1002.1 863.0 A38.9 8.2 0 0 0 1080.0 863.0 L1080.0 832.0 Z" fill="#c82038" stroke="none" stroke-width="0.00" /><path d="M1002.1 832.0 L1002.1 863.0 A38.9 8.2 0 0 0 1045.7 871.1 L1045.7 832.0 Z" fill="#f83860" stroke="none" stroke-width="0.00" /><ellipse cx="1041.0" cy="832.0" rx="38.9" ry="8.2" fill="#d02040" stroke="#8a8a60" stroke-width="0.80" /><line x1="1002.10" y1="832.00" x2="1002.10" y2="1393.10" stroke="#9a8a50" stroke-width="0.90" /><line x1="1080.00" y1="832.00" x2="1080.00" y2="1393.10" stroke="#9a8a50" stroke-width="0.90" /><path d="M1065.6 1404.0 L1065.6 1425.6 A37.9 8.0 0 0 0 1141.4 1425.6 L1141.4 1404.0 Z" fill="#d2640f" stroke="none" stroke-width="0.00" /><path d="M1065.6 1404.0 L1065.6 1425.6 A37.9 8.0 0 0 0 1108.0 1433.5 L1108.0 1404.0 Z" fill="#ff6c1c" stroke="none" stroke-width="0.00" /><path d="M1065.6 1382.3 L1065.6 1404.0 A37.9 8.0 0 0 0 1141.4 1404.0 L1141.4 1382.3 Z" fill="#35a4ac" stroke="none" stroke-width="0.00" /><path d="M1065.6 1382.3 L1065.6 1404.0 A37.9 8.0 0 0 0 1108.0 1411.9 L1108.0 1382.3 Z" fill="#00ffff" stroke="none" stroke-width="0.00" /><path d="M1065.6 1371.5 L1065.6 1382.3 A37.9 8.0 0 0 0 1141.4 1382.3 L1141.4 1371.5 Z" fill="#6a28a2" stroke="none" stroke-width="0.00" /><path d="M1065.6 1371.5 L1065.6 1382.3 A37.9 8.0 0 0 0 1108.0 1390.2 L1108.0 1371.5 Z" fill="#8a2be2" stroke="none" stroke-width="0.00" /><path d="M1065.6 1337.0 L1065.6 1371.5 A37.9 8.0 0 0 0 1141.4 1371.5 L1141.4 1337.0 Z" fill="#d2ce22" stroke="none" stroke-width="0.00" /><path d="M1065.6 1337.0 L1065.6 1371.5 A37.9 8.0 0 0 0 1108.0 1379.4 L1108.0 1337.0 Z" fill="#ffff20" stroke="none" stroke-width="0.00" /><line x1="1136.09" y1="1341.00" x2="1136.09" y2="1375.48" stroke="#b4a42c" stroke-width="5.31" /><ellipse cx="1103.5" cy="1337.0" rx="37.9" ry="8.0" fill="#d8d420" stroke="#8a8a60" stroke-width="0.80" /><line x1="1065.60" y1="1337.00" x2="1065.60" y2="1425.60" stroke="#9a8a50" stroke-width="0.90" /><line x1="1141.40" y1="1337.00" x2="1141.40" y2="1425.60" stroke="#9a8a50" stroke-width="0.90" /><path d="M1129.1 1440.0 L1129.1 1448.0 A38.6 8.1 0 0 0 1206.3 1448.0 L1206.3 1440.0 Z" fill="#d2640f" stroke="none" stroke-width="0.00" /><path d="M1129.1 1440.0 L1129.1 1448.0 A38.6 8.1 0 0 0 1172.3 1456.0 L1172.3 1440.0 Z" fill="#ff6c1c" stroke="none" stroke-width="0.00" /><path d="M1129.1 1431.0 L1129.1 1440.0 A38.6 8.1 0 0 0 1206.3 1440.0 L1206.3 1431.0 Z" fill="#d2ce22" stroke="none" stroke-width="0.00" /><path d="M1129.1 1431.0 L1129.1 1440.0 A38.6 8.1 0 0 0 1172.3 1448.0 L1172.3 1431.0 Z" fill="#ffff20" stroke="none" stroke-width="0.00" /><ellipse cx="1167.7" cy="1431.0" rx="38.6" ry="8.1" fill="#55553e" stroke="#8a8a60" stroke-width="0.80" /><line x1="1129.10" y1="1431.00" x2="1129.10" y2="1448.00" stroke="#9a8a50" stroke-width="0.90" /><line x1="1206.30" y1="1431.00" x2="1206.30" y2="1448.00" stroke="#9a8a50" stroke-width="0.90" />
<rect x="1583" y="230" width="222" height="528" fill="#fff" stroke="#888" stroke-width="3"/>
<rect x="1590" y="236.0" width="95" height="44" fill="#f09030" stroke="#999" stroke-width="1.5"/>
<text x="1698.00" y="272.00" font-size="41.00" fill="#111" text-anchor="start" >NOR</text>
<rect x="1590" y="288.2" width="95" height="44" fill="#00ffff" stroke="#999" stroke-width="1.5"/>
<text x="1698.00" y="324.20" font-size="41.00" fill="#111" text-anchor="start" >OFL</text>
<rect x="1590" y="340.4" width="95" height="44" fill="#8a2be2" stroke="#999" stroke-width="1.5"/>
<text x="1698.00" y="376.40" font-size="41.00" fill="#111" text-anchor="start" >CIP</text>
<rect x="1590" y="392.6" width="95" height="44" fill="#ffff20" stroke="#999" stroke-width="1.5"/>
<text x="1698.00" y="428.60" font-size="41.00" fill="#111" text-anchor="start" >ENR</text>
<rect x="1590" y="444.8" width="95" height="44" fill="#0000f0" stroke="#999" stroke-width="1.5"/>
<text x="1698.00" y="480.80" font-size="41.00" fill="#111" text-anchor="start" >ENO</text>
<rect x="1590" y="497.0" width="95" height="44" fill="#2a9030" stroke="#999" stroke-width="1.5"/>
<text x="1698.00" y="533.00" font-size="41.00" fill="#111" text-anchor="start" >LOM</text>
<rect x="1590" y="549.2" width="95" height="44" fill="#707860" stroke="#999" stroke-width="1.5"/>
<text x="1698.00" y="585.20" font-size="41.00" fill="#111" text-anchor="start" >SAR</text>
<rect x="1590" y="601.4" width="95" height="44" fill="#18c8d0" stroke="#999" stroke-width="1.5"/>
<text x="1698.00" y="637.40" font-size="41.00" fill="#111" text-anchor="start" >FLU</text>
<rect x="1590" y="653.6" width="95" height="44" fill="#f83868" stroke="#999" stroke-width="1.5"/>
<text x="1698.00" y="689.60" font-size="41.00" fill="#111" text-anchor="start" >OXO</text>
<rect x="1590" y="705.8" width="95" height="44" fill="#48f050" stroke="#999" stroke-width="1.5"/>
<text x="1698.00" y="741.80" font-size="41.00" fill="#111" text-anchor="start" >DIF</text></g>
</svg>
</body></html>
